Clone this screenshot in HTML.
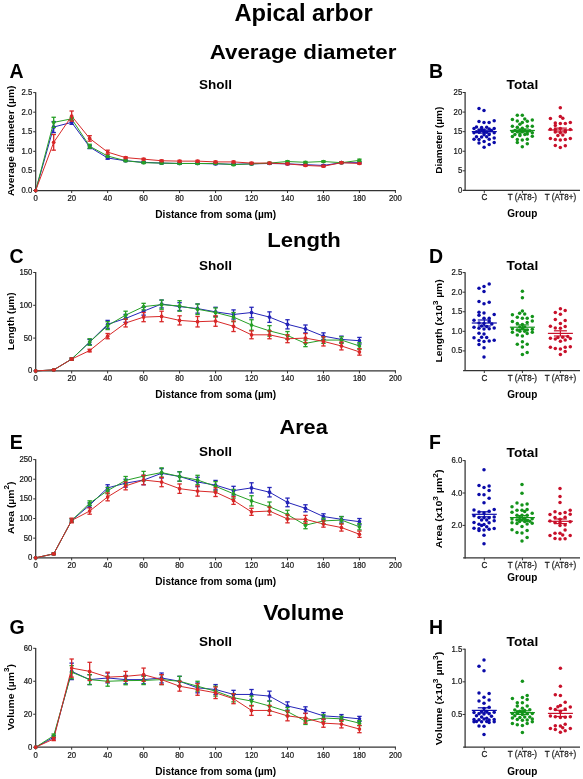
<!DOCTYPE html>
<html><head><meta charset="utf-8"><style>
html,body{margin:0;padding:0;background:#fff;width:583px;height:779px;overflow:hidden}
svg{display:block;will-change:transform}
text{font-family:"Liberation Sans", sans-serif}
</style></head><body>
<svg width="583" height="779" viewBox="0 0 583 779">
<rect width="583" height="779" fill="#fff"/>
<text x="303.50" y="20.80" font-size="23.7" font-weight="bold" text-anchor="middle" fill="#000" >Apical arbor</text>
<text x="303.05" y="58.50" font-size="21.1" font-weight="bold" text-anchor="middle" fill="#000" textLength="186.7" lengthAdjust="spacingAndGlyphs">Average diameter</text>
<text x="304.05" y="247.40" font-size="21.1" font-weight="bold" text-anchor="middle" fill="#000" textLength="73.5" lengthAdjust="spacingAndGlyphs">Length</text>
<text x="303.60" y="433.60" font-size="21.1" font-weight="bold" text-anchor="middle" fill="#000" textLength="48.2" lengthAdjust="spacingAndGlyphs">Area</text>
<text x="303.60" y="619.50" font-size="21.6" font-weight="bold" text-anchor="middle" fill="#000" textLength="80.8" lengthAdjust="spacingAndGlyphs">Volume</text>
<line x1="35.70" y1="92.20" x2="35.70" y2="191.10" stroke="#333333" stroke-width="1.25" />
<line x1="35.10" y1="190.50" x2="396.00" y2="190.50" stroke="#333333" stroke-width="1.25" />
<line x1="33.20" y1="190.50" x2="35.70" y2="190.50" stroke="#333333" stroke-width="1.0" />
<text transform="translate(32.30 193.00) scale(0.88 1)" x="0" y="0" font-size="8.8" text-anchor="end" fill="#1a1a1a" stroke="#1a1a1a" stroke-width="0.25">0.0</text>
<line x1="33.20" y1="170.92" x2="35.70" y2="170.92" stroke="#333333" stroke-width="1.0" />
<text transform="translate(32.30 173.42) scale(0.88 1)" x="0" y="0" font-size="8.8" text-anchor="end" fill="#1a1a1a" stroke="#1a1a1a" stroke-width="0.25">0.5</text>
<line x1="33.20" y1="151.34" x2="35.70" y2="151.34" stroke="#333333" stroke-width="1.0" />
<text transform="translate(32.30 153.84) scale(0.88 1)" x="0" y="0" font-size="8.8" text-anchor="end" fill="#1a1a1a" stroke="#1a1a1a" stroke-width="0.25">1.0</text>
<line x1="33.20" y1="131.76" x2="35.70" y2="131.76" stroke="#333333" stroke-width="1.0" />
<text transform="translate(32.30 134.26) scale(0.88 1)" x="0" y="0" font-size="8.8" text-anchor="end" fill="#1a1a1a" stroke="#1a1a1a" stroke-width="0.25">1.5</text>
<line x1="33.20" y1="112.18" x2="35.70" y2="112.18" stroke="#333333" stroke-width="1.0" />
<text transform="translate(32.30 114.68) scale(0.88 1)" x="0" y="0" font-size="8.8" text-anchor="end" fill="#1a1a1a" stroke="#1a1a1a" stroke-width="0.25">2.0</text>
<line x1="33.20" y1="92.60" x2="35.70" y2="92.60" stroke="#333333" stroke-width="1.0" />
<text transform="translate(32.30 95.10) scale(0.88 1)" x="0" y="0" font-size="8.8" text-anchor="end" fill="#1a1a1a" stroke="#1a1a1a" stroke-width="0.25">2.5</text>
<line x1="35.70" y1="190.50" x2="35.70" y2="193.00" stroke="#333333" stroke-width="1.0" />
<text transform="translate(35.70 200.80) scale(0.88 1)" x="0" y="0" font-size="8.8" text-anchor="middle" fill="#1a1a1a" stroke="#1a1a1a" stroke-width="0.25">0</text>
<line x1="71.67" y1="190.50" x2="71.67" y2="193.00" stroke="#333333" stroke-width="1.0" />
<text transform="translate(71.67 200.80) scale(0.88 1)" x="0" y="0" font-size="8.8" text-anchor="middle" fill="#1a1a1a" stroke="#1a1a1a" stroke-width="0.25">20</text>
<line x1="107.64" y1="190.50" x2="107.64" y2="193.00" stroke="#333333" stroke-width="1.0" />
<text transform="translate(107.64 200.80) scale(0.88 1)" x="0" y="0" font-size="8.8" text-anchor="middle" fill="#1a1a1a" stroke="#1a1a1a" stroke-width="0.25">40</text>
<line x1="143.61" y1="190.50" x2="143.61" y2="193.00" stroke="#333333" stroke-width="1.0" />
<text transform="translate(143.61 200.80) scale(0.88 1)" x="0" y="0" font-size="8.8" text-anchor="middle" fill="#1a1a1a" stroke="#1a1a1a" stroke-width="0.25">60</text>
<line x1="179.58" y1="190.50" x2="179.58" y2="193.00" stroke="#333333" stroke-width="1.0" />
<text transform="translate(179.58 200.80) scale(0.88 1)" x="0" y="0" font-size="8.8" text-anchor="middle" fill="#1a1a1a" stroke="#1a1a1a" stroke-width="0.25">80</text>
<line x1="215.55" y1="190.50" x2="215.55" y2="193.00" stroke="#333333" stroke-width="1.0" />
<text transform="translate(215.55 200.80) scale(0.88 1)" x="0" y="0" font-size="8.8" text-anchor="middle" fill="#1a1a1a" stroke="#1a1a1a" stroke-width="0.25">100</text>
<line x1="251.52" y1="190.50" x2="251.52" y2="193.00" stroke="#333333" stroke-width="1.0" />
<text transform="translate(251.52 200.80) scale(0.88 1)" x="0" y="0" font-size="8.8" text-anchor="middle" fill="#1a1a1a" stroke="#1a1a1a" stroke-width="0.25">120</text>
<line x1="287.49" y1="190.50" x2="287.49" y2="193.00" stroke="#333333" stroke-width="1.0" />
<text transform="translate(287.49 200.80) scale(0.88 1)" x="0" y="0" font-size="8.8" text-anchor="middle" fill="#1a1a1a" stroke="#1a1a1a" stroke-width="0.25">140</text>
<line x1="323.46" y1="190.50" x2="323.46" y2="193.00" stroke="#333333" stroke-width="1.0" />
<text transform="translate(323.46 200.80) scale(0.88 1)" x="0" y="0" font-size="8.8" text-anchor="middle" fill="#1a1a1a" stroke="#1a1a1a" stroke-width="0.25">160</text>
<line x1="359.43" y1="190.50" x2="359.43" y2="193.00" stroke="#333333" stroke-width="1.0" />
<text transform="translate(359.43 200.80) scale(0.88 1)" x="0" y="0" font-size="8.8" text-anchor="middle" fill="#1a1a1a" stroke="#1a1a1a" stroke-width="0.25">180</text>
<line x1="395.40" y1="190.50" x2="395.40" y2="193.00" stroke="#333333" stroke-width="1.0" />
<text transform="translate(395.40 200.80) scale(0.88 1)" x="0" y="0" font-size="8.8" text-anchor="middle" fill="#1a1a1a" stroke="#1a1a1a" stroke-width="0.25">200</text>
<text x="215.70" y="217.60" font-size="10.1" font-weight="bold" text-anchor="middle" fill="#000" >Distance from soma (µm)</text>
<text x="215.60" y="89.40" font-size="13.5" font-weight="bold" text-anchor="middle" fill="#000" >Sholl</text>
<text x="9.40" y="77.90" font-size="19.5" font-weight="bold" text-anchor="start" fill="#000" >A</text>
<text transform="translate(13.60 140.80) rotate(-90) scale(1.0719 1)" x="0" y="0" font-size="9.6" font-weight="bold" text-anchor="middle">Average diameter (µm)</text>
<polyline points="35.70,190.50 53.69,127.06 71.67,122.36 89.66,147.03 107.64,158.00 125.62,160.74 143.61,162.30 161.59,163.09 179.58,163.48 197.56,163.48 215.55,163.87 233.54,164.26 251.52,163.87 269.50,163.48 287.49,163.87 305.47,164.65 323.46,165.44 341.44,162.70 359.43,162.70" fill="none" stroke="#2424b8" stroke-width="1.0"/>
<polyline points="35.70,190.50 53.69,122.36 71.67,118.84 89.66,146.25 107.64,156.04 125.62,160.74 143.61,162.70 161.59,163.09 179.58,163.48 197.56,163.48 215.55,163.48 233.54,164.65 251.52,163.87 269.50,163.09 287.49,161.52 305.47,162.30 323.46,161.52 341.44,162.70 359.43,160.35" fill="none" stroke="#26a026" stroke-width="1.0"/>
<polyline points="35.70,190.50 53.69,142.33 71.67,116.10 89.66,138.42 107.64,152.12 125.62,157.61 143.61,159.17 161.59,160.74 179.58,161.13 197.56,161.13 215.55,161.91 233.54,161.91 251.52,163.09 269.50,163.09 287.49,163.87 305.47,165.44 323.46,166.22 341.44,162.70 359.43,163.48" fill="none" stroke="#d82828" stroke-width="1.0"/>
<circle cx="35.70" cy="190.50" r="1.85" fill="#2424b8"/>
<line x1="53.69" y1="121.58" x2="53.69" y2="132.54" stroke="#2424b8" stroke-width="1.3" />
<line x1="51.48" y1="121.58" x2="55.89" y2="121.58" stroke="#2424b8" stroke-width="1.3" />
<line x1="51.48" y1="132.54" x2="55.89" y2="132.54" stroke="#2424b8" stroke-width="1.3" />
<circle cx="53.69" cy="127.06" r="1.85" fill="#2424b8"/>
<line x1="71.67" y1="120.40" x2="71.67" y2="124.32" stroke="#2424b8" stroke-width="1.3" />
<line x1="69.47" y1="120.40" x2="73.87" y2="120.40" stroke="#2424b8" stroke-width="1.3" />
<line x1="69.47" y1="124.32" x2="73.87" y2="124.32" stroke="#2424b8" stroke-width="1.3" />
<circle cx="71.67" cy="122.36" r="1.85" fill="#2424b8"/>
<line x1="89.66" y1="145.47" x2="89.66" y2="148.60" stroke="#2424b8" stroke-width="1.3" />
<line x1="87.45" y1="145.47" x2="91.86" y2="145.47" stroke="#2424b8" stroke-width="1.3" />
<line x1="87.45" y1="148.60" x2="91.86" y2="148.60" stroke="#2424b8" stroke-width="1.3" />
<circle cx="89.66" cy="147.03" r="1.85" fill="#2424b8"/>
<line x1="107.64" y1="156.82" x2="107.64" y2="159.17" stroke="#2424b8" stroke-width="1.3" />
<line x1="105.44" y1="156.82" x2="109.84" y2="156.82" stroke="#2424b8" stroke-width="1.3" />
<line x1="105.44" y1="159.17" x2="109.84" y2="159.17" stroke="#2424b8" stroke-width="1.3" />
<circle cx="107.64" cy="158.00" r="1.85" fill="#2424b8"/>
<line x1="125.62" y1="159.96" x2="125.62" y2="161.52" stroke="#2424b8" stroke-width="1.3" />
<line x1="123.42" y1="159.96" x2="127.83" y2="159.96" stroke="#2424b8" stroke-width="1.3" />
<line x1="123.42" y1="161.52" x2="127.83" y2="161.52" stroke="#2424b8" stroke-width="1.3" />
<circle cx="125.62" cy="160.74" r="1.85" fill="#2424b8"/>
<line x1="143.61" y1="161.52" x2="143.61" y2="163.09" stroke="#2424b8" stroke-width="1.3" />
<line x1="141.41" y1="161.52" x2="145.81" y2="161.52" stroke="#2424b8" stroke-width="1.3" />
<line x1="141.41" y1="163.09" x2="145.81" y2="163.09" stroke="#2424b8" stroke-width="1.3" />
<circle cx="143.61" cy="162.30" r="1.85" fill="#2424b8"/>
<line x1="161.59" y1="162.30" x2="161.59" y2="163.87" stroke="#2424b8" stroke-width="1.3" />
<line x1="159.40" y1="162.30" x2="163.79" y2="162.30" stroke="#2424b8" stroke-width="1.3" />
<line x1="159.40" y1="163.87" x2="163.79" y2="163.87" stroke="#2424b8" stroke-width="1.3" />
<circle cx="161.59" cy="163.09" r="1.85" fill="#2424b8"/>
<line x1="179.58" y1="162.70" x2="179.58" y2="164.26" stroke="#2424b8" stroke-width="1.3" />
<line x1="177.38" y1="162.70" x2="181.78" y2="162.70" stroke="#2424b8" stroke-width="1.3" />
<line x1="177.38" y1="164.26" x2="181.78" y2="164.26" stroke="#2424b8" stroke-width="1.3" />
<circle cx="179.58" cy="163.48" r="1.85" fill="#2424b8"/>
<line x1="197.56" y1="162.70" x2="197.56" y2="164.26" stroke="#2424b8" stroke-width="1.3" />
<line x1="195.37" y1="162.70" x2="199.76" y2="162.70" stroke="#2424b8" stroke-width="1.3" />
<line x1="195.37" y1="164.26" x2="199.76" y2="164.26" stroke="#2424b8" stroke-width="1.3" />
<circle cx="197.56" cy="163.48" r="1.85" fill="#2424b8"/>
<line x1="215.55" y1="163.09" x2="215.55" y2="164.65" stroke="#2424b8" stroke-width="1.3" />
<line x1="213.35" y1="163.09" x2="217.75" y2="163.09" stroke="#2424b8" stroke-width="1.3" />
<line x1="213.35" y1="164.65" x2="217.75" y2="164.65" stroke="#2424b8" stroke-width="1.3" />
<circle cx="215.55" cy="163.87" r="1.85" fill="#2424b8"/>
<line x1="233.54" y1="163.48" x2="233.54" y2="165.05" stroke="#2424b8" stroke-width="1.3" />
<line x1="231.34" y1="163.48" x2="235.74" y2="163.48" stroke="#2424b8" stroke-width="1.3" />
<line x1="231.34" y1="165.05" x2="235.74" y2="165.05" stroke="#2424b8" stroke-width="1.3" />
<circle cx="233.54" cy="164.26" r="1.85" fill="#2424b8"/>
<line x1="251.52" y1="163.09" x2="251.52" y2="164.65" stroke="#2424b8" stroke-width="1.3" />
<line x1="249.32" y1="163.09" x2="253.72" y2="163.09" stroke="#2424b8" stroke-width="1.3" />
<line x1="249.32" y1="164.65" x2="253.72" y2="164.65" stroke="#2424b8" stroke-width="1.3" />
<circle cx="251.52" cy="163.87" r="1.85" fill="#2424b8"/>
<line x1="269.50" y1="162.70" x2="269.50" y2="164.26" stroke="#2424b8" stroke-width="1.3" />
<line x1="267.31" y1="162.70" x2="271.70" y2="162.70" stroke="#2424b8" stroke-width="1.3" />
<line x1="267.31" y1="164.26" x2="271.70" y2="164.26" stroke="#2424b8" stroke-width="1.3" />
<circle cx="269.50" cy="163.48" r="1.85" fill="#2424b8"/>
<line x1="287.49" y1="163.09" x2="287.49" y2="164.65" stroke="#2424b8" stroke-width="1.3" />
<line x1="285.29" y1="163.09" x2="289.69" y2="163.09" stroke="#2424b8" stroke-width="1.3" />
<line x1="285.29" y1="164.65" x2="289.69" y2="164.65" stroke="#2424b8" stroke-width="1.3" />
<circle cx="287.49" cy="163.87" r="1.85" fill="#2424b8"/>
<line x1="305.47" y1="163.87" x2="305.47" y2="165.44" stroke="#2424b8" stroke-width="1.3" />
<line x1="303.27" y1="163.87" x2="307.67" y2="163.87" stroke="#2424b8" stroke-width="1.3" />
<line x1="303.27" y1="165.44" x2="307.67" y2="165.44" stroke="#2424b8" stroke-width="1.3" />
<circle cx="305.47" cy="164.65" r="1.85" fill="#2424b8"/>
<line x1="323.46" y1="164.65" x2="323.46" y2="166.22" stroke="#2424b8" stroke-width="1.3" />
<line x1="321.26" y1="164.65" x2="325.66" y2="164.65" stroke="#2424b8" stroke-width="1.3" />
<line x1="321.26" y1="166.22" x2="325.66" y2="166.22" stroke="#2424b8" stroke-width="1.3" />
<circle cx="323.46" cy="165.44" r="1.85" fill="#2424b8"/>
<line x1="341.44" y1="161.91" x2="341.44" y2="163.48" stroke="#2424b8" stroke-width="1.3" />
<line x1="339.25" y1="161.91" x2="343.64" y2="161.91" stroke="#2424b8" stroke-width="1.3" />
<line x1="339.25" y1="163.48" x2="343.64" y2="163.48" stroke="#2424b8" stroke-width="1.3" />
<circle cx="341.44" cy="162.70" r="1.85" fill="#2424b8"/>
<line x1="359.43" y1="161.91" x2="359.43" y2="163.48" stroke="#2424b8" stroke-width="1.3" />
<line x1="357.23" y1="161.91" x2="361.63" y2="161.91" stroke="#2424b8" stroke-width="1.3" />
<line x1="357.23" y1="163.48" x2="361.63" y2="163.48" stroke="#2424b8" stroke-width="1.3" />
<circle cx="359.43" cy="162.70" r="1.85" fill="#2424b8"/>
<circle cx="35.70" cy="190.50" r="1.85" fill="#26a026"/>
<line x1="53.69" y1="117.27" x2="53.69" y2="127.45" stroke="#26a026" stroke-width="1.3" />
<line x1="51.48" y1="117.27" x2="55.89" y2="117.27" stroke="#26a026" stroke-width="1.3" />
<line x1="51.48" y1="127.45" x2="55.89" y2="127.45" stroke="#26a026" stroke-width="1.3" />
<circle cx="53.69" cy="122.36" r="1.85" fill="#26a026"/>
<line x1="71.67" y1="117.27" x2="71.67" y2="120.40" stroke="#26a026" stroke-width="1.3" />
<line x1="69.47" y1="117.27" x2="73.87" y2="117.27" stroke="#26a026" stroke-width="1.3" />
<line x1="69.47" y1="120.40" x2="73.87" y2="120.40" stroke="#26a026" stroke-width="1.3" />
<circle cx="71.67" cy="118.84" r="1.85" fill="#26a026"/>
<line x1="89.66" y1="144.29" x2="89.66" y2="148.21" stroke="#26a026" stroke-width="1.3" />
<line x1="87.45" y1="144.29" x2="91.86" y2="144.29" stroke="#26a026" stroke-width="1.3" />
<line x1="87.45" y1="148.21" x2="91.86" y2="148.21" stroke="#26a026" stroke-width="1.3" />
<circle cx="89.66" cy="146.25" r="1.85" fill="#26a026"/>
<line x1="107.64" y1="154.86" x2="107.64" y2="157.21" stroke="#26a026" stroke-width="1.3" />
<line x1="105.44" y1="154.86" x2="109.84" y2="154.86" stroke="#26a026" stroke-width="1.3" />
<line x1="105.44" y1="157.21" x2="109.84" y2="157.21" stroke="#26a026" stroke-width="1.3" />
<circle cx="107.64" cy="156.04" r="1.85" fill="#26a026"/>
<line x1="125.62" y1="159.96" x2="125.62" y2="161.52" stroke="#26a026" stroke-width="1.3" />
<line x1="123.42" y1="159.96" x2="127.83" y2="159.96" stroke="#26a026" stroke-width="1.3" />
<line x1="123.42" y1="161.52" x2="127.83" y2="161.52" stroke="#26a026" stroke-width="1.3" />
<circle cx="125.62" cy="160.74" r="1.85" fill="#26a026"/>
<line x1="143.61" y1="161.91" x2="143.61" y2="163.48" stroke="#26a026" stroke-width="1.3" />
<line x1="141.41" y1="161.91" x2="145.81" y2="161.91" stroke="#26a026" stroke-width="1.3" />
<line x1="141.41" y1="163.48" x2="145.81" y2="163.48" stroke="#26a026" stroke-width="1.3" />
<circle cx="143.61" cy="162.70" r="1.85" fill="#26a026"/>
<line x1="161.59" y1="162.30" x2="161.59" y2="163.87" stroke="#26a026" stroke-width="1.3" />
<line x1="159.40" y1="162.30" x2="163.79" y2="162.30" stroke="#26a026" stroke-width="1.3" />
<line x1="159.40" y1="163.87" x2="163.79" y2="163.87" stroke="#26a026" stroke-width="1.3" />
<circle cx="161.59" cy="163.09" r="1.85" fill="#26a026"/>
<line x1="179.58" y1="162.70" x2="179.58" y2="164.26" stroke="#26a026" stroke-width="1.3" />
<line x1="177.38" y1="162.70" x2="181.78" y2="162.70" stroke="#26a026" stroke-width="1.3" />
<line x1="177.38" y1="164.26" x2="181.78" y2="164.26" stroke="#26a026" stroke-width="1.3" />
<circle cx="179.58" cy="163.48" r="1.85" fill="#26a026"/>
<line x1="197.56" y1="162.70" x2="197.56" y2="164.26" stroke="#26a026" stroke-width="1.3" />
<line x1="195.37" y1="162.70" x2="199.76" y2="162.70" stroke="#26a026" stroke-width="1.3" />
<line x1="195.37" y1="164.26" x2="199.76" y2="164.26" stroke="#26a026" stroke-width="1.3" />
<circle cx="197.56" cy="163.48" r="1.85" fill="#26a026"/>
<line x1="215.55" y1="162.70" x2="215.55" y2="164.26" stroke="#26a026" stroke-width="1.3" />
<line x1="213.35" y1="162.70" x2="217.75" y2="162.70" stroke="#26a026" stroke-width="1.3" />
<line x1="213.35" y1="164.26" x2="217.75" y2="164.26" stroke="#26a026" stroke-width="1.3" />
<circle cx="215.55" cy="163.48" r="1.85" fill="#26a026"/>
<line x1="233.54" y1="163.87" x2="233.54" y2="165.44" stroke="#26a026" stroke-width="1.3" />
<line x1="231.34" y1="163.87" x2="235.74" y2="163.87" stroke="#26a026" stroke-width="1.3" />
<line x1="231.34" y1="165.44" x2="235.74" y2="165.44" stroke="#26a026" stroke-width="1.3" />
<circle cx="233.54" cy="164.65" r="1.85" fill="#26a026"/>
<line x1="251.52" y1="163.09" x2="251.52" y2="164.65" stroke="#26a026" stroke-width="1.3" />
<line x1="249.32" y1="163.09" x2="253.72" y2="163.09" stroke="#26a026" stroke-width="1.3" />
<line x1="249.32" y1="164.65" x2="253.72" y2="164.65" stroke="#26a026" stroke-width="1.3" />
<circle cx="251.52" cy="163.87" r="1.85" fill="#26a026"/>
<line x1="269.50" y1="162.30" x2="269.50" y2="163.87" stroke="#26a026" stroke-width="1.3" />
<line x1="267.31" y1="162.30" x2="271.70" y2="162.30" stroke="#26a026" stroke-width="1.3" />
<line x1="267.31" y1="163.87" x2="271.70" y2="163.87" stroke="#26a026" stroke-width="1.3" />
<circle cx="269.50" cy="163.09" r="1.85" fill="#26a026"/>
<line x1="287.49" y1="160.74" x2="287.49" y2="162.30" stroke="#26a026" stroke-width="1.3" />
<line x1="285.29" y1="160.74" x2="289.69" y2="160.74" stroke="#26a026" stroke-width="1.3" />
<line x1="285.29" y1="162.30" x2="289.69" y2="162.30" stroke="#26a026" stroke-width="1.3" />
<circle cx="287.49" cy="161.52" r="1.85" fill="#26a026"/>
<line x1="305.47" y1="161.52" x2="305.47" y2="163.09" stroke="#26a026" stroke-width="1.3" />
<line x1="303.27" y1="161.52" x2="307.67" y2="161.52" stroke="#26a026" stroke-width="1.3" />
<line x1="303.27" y1="163.09" x2="307.67" y2="163.09" stroke="#26a026" stroke-width="1.3" />
<circle cx="305.47" cy="162.30" r="1.85" fill="#26a026"/>
<line x1="323.46" y1="160.74" x2="323.46" y2="162.30" stroke="#26a026" stroke-width="1.3" />
<line x1="321.26" y1="160.74" x2="325.66" y2="160.74" stroke="#26a026" stroke-width="1.3" />
<line x1="321.26" y1="162.30" x2="325.66" y2="162.30" stroke="#26a026" stroke-width="1.3" />
<circle cx="323.46" cy="161.52" r="1.85" fill="#26a026"/>
<line x1="341.44" y1="161.91" x2="341.44" y2="163.48" stroke="#26a026" stroke-width="1.3" />
<line x1="339.25" y1="161.91" x2="343.64" y2="161.91" stroke="#26a026" stroke-width="1.3" />
<line x1="339.25" y1="163.48" x2="343.64" y2="163.48" stroke="#26a026" stroke-width="1.3" />
<circle cx="341.44" cy="162.70" r="1.85" fill="#26a026"/>
<line x1="359.43" y1="159.17" x2="359.43" y2="161.52" stroke="#26a026" stroke-width="1.3" />
<line x1="357.23" y1="159.17" x2="361.63" y2="159.17" stroke="#26a026" stroke-width="1.3" />
<line x1="357.23" y1="161.52" x2="361.63" y2="161.52" stroke="#26a026" stroke-width="1.3" />
<circle cx="359.43" cy="160.35" r="1.85" fill="#26a026"/>
<circle cx="35.70" cy="190.50" r="1.85" fill="#d82828"/>
<line x1="53.69" y1="134.50" x2="53.69" y2="150.17" stroke="#d82828" stroke-width="1.3" />
<line x1="51.48" y1="134.50" x2="55.89" y2="134.50" stroke="#d82828" stroke-width="1.3" />
<line x1="51.48" y1="150.17" x2="55.89" y2="150.17" stroke="#d82828" stroke-width="1.3" />
<circle cx="53.69" cy="142.33" r="1.85" fill="#d82828"/>
<line x1="71.67" y1="111.01" x2="71.67" y2="121.19" stroke="#d82828" stroke-width="1.3" />
<line x1="69.47" y1="111.01" x2="73.87" y2="111.01" stroke="#d82828" stroke-width="1.3" />
<line x1="69.47" y1="121.19" x2="73.87" y2="121.19" stroke="#d82828" stroke-width="1.3" />
<circle cx="71.67" cy="116.10" r="1.85" fill="#d82828"/>
<line x1="89.66" y1="135.68" x2="89.66" y2="141.16" stroke="#d82828" stroke-width="1.3" />
<line x1="87.45" y1="135.68" x2="91.86" y2="135.68" stroke="#d82828" stroke-width="1.3" />
<line x1="87.45" y1="141.16" x2="91.86" y2="141.16" stroke="#d82828" stroke-width="1.3" />
<circle cx="89.66" cy="138.42" r="1.85" fill="#d82828"/>
<line x1="107.64" y1="150.17" x2="107.64" y2="154.08" stroke="#d82828" stroke-width="1.3" />
<line x1="105.44" y1="150.17" x2="109.84" y2="150.17" stroke="#d82828" stroke-width="1.3" />
<line x1="105.44" y1="154.08" x2="109.84" y2="154.08" stroke="#d82828" stroke-width="1.3" />
<circle cx="107.64" cy="152.12" r="1.85" fill="#d82828"/>
<line x1="125.62" y1="156.82" x2="125.62" y2="158.39" stroke="#d82828" stroke-width="1.3" />
<line x1="123.42" y1="156.82" x2="127.83" y2="156.82" stroke="#d82828" stroke-width="1.3" />
<line x1="123.42" y1="158.39" x2="127.83" y2="158.39" stroke="#d82828" stroke-width="1.3" />
<circle cx="125.62" cy="157.61" r="1.85" fill="#d82828"/>
<line x1="143.61" y1="158.39" x2="143.61" y2="159.96" stroke="#d82828" stroke-width="1.3" />
<line x1="141.41" y1="158.39" x2="145.81" y2="158.39" stroke="#d82828" stroke-width="1.3" />
<line x1="141.41" y1="159.96" x2="145.81" y2="159.96" stroke="#d82828" stroke-width="1.3" />
<circle cx="143.61" cy="159.17" r="1.85" fill="#d82828"/>
<line x1="161.59" y1="159.96" x2="161.59" y2="161.52" stroke="#d82828" stroke-width="1.3" />
<line x1="159.40" y1="159.96" x2="163.79" y2="159.96" stroke="#d82828" stroke-width="1.3" />
<line x1="159.40" y1="161.52" x2="163.79" y2="161.52" stroke="#d82828" stroke-width="1.3" />
<circle cx="161.59" cy="160.74" r="1.85" fill="#d82828"/>
<line x1="179.58" y1="160.35" x2="179.58" y2="161.91" stroke="#d82828" stroke-width="1.3" />
<line x1="177.38" y1="160.35" x2="181.78" y2="160.35" stroke="#d82828" stroke-width="1.3" />
<line x1="177.38" y1="161.91" x2="181.78" y2="161.91" stroke="#d82828" stroke-width="1.3" />
<circle cx="179.58" cy="161.13" r="1.85" fill="#d82828"/>
<line x1="197.56" y1="160.35" x2="197.56" y2="161.91" stroke="#d82828" stroke-width="1.3" />
<line x1="195.37" y1="160.35" x2="199.76" y2="160.35" stroke="#d82828" stroke-width="1.3" />
<line x1="195.37" y1="161.91" x2="199.76" y2="161.91" stroke="#d82828" stroke-width="1.3" />
<circle cx="197.56" cy="161.13" r="1.85" fill="#d82828"/>
<line x1="215.55" y1="161.13" x2="215.55" y2="162.70" stroke="#d82828" stroke-width="1.3" />
<line x1="213.35" y1="161.13" x2="217.75" y2="161.13" stroke="#d82828" stroke-width="1.3" />
<line x1="213.35" y1="162.70" x2="217.75" y2="162.70" stroke="#d82828" stroke-width="1.3" />
<circle cx="215.55" cy="161.91" r="1.85" fill="#d82828"/>
<line x1="233.54" y1="161.13" x2="233.54" y2="162.70" stroke="#d82828" stroke-width="1.3" />
<line x1="231.34" y1="161.13" x2="235.74" y2="161.13" stroke="#d82828" stroke-width="1.3" />
<line x1="231.34" y1="162.70" x2="235.74" y2="162.70" stroke="#d82828" stroke-width="1.3" />
<circle cx="233.54" cy="161.91" r="1.85" fill="#d82828"/>
<line x1="251.52" y1="162.30" x2="251.52" y2="163.87" stroke="#d82828" stroke-width="1.3" />
<line x1="249.32" y1="162.30" x2="253.72" y2="162.30" stroke="#d82828" stroke-width="1.3" />
<line x1="249.32" y1="163.87" x2="253.72" y2="163.87" stroke="#d82828" stroke-width="1.3" />
<circle cx="251.52" cy="163.09" r="1.85" fill="#d82828"/>
<line x1="269.50" y1="162.30" x2="269.50" y2="163.87" stroke="#d82828" stroke-width="1.3" />
<line x1="267.31" y1="162.30" x2="271.70" y2="162.30" stroke="#d82828" stroke-width="1.3" />
<line x1="267.31" y1="163.87" x2="271.70" y2="163.87" stroke="#d82828" stroke-width="1.3" />
<circle cx="269.50" cy="163.09" r="1.85" fill="#d82828"/>
<line x1="287.49" y1="163.09" x2="287.49" y2="164.65" stroke="#d82828" stroke-width="1.3" />
<line x1="285.29" y1="163.09" x2="289.69" y2="163.09" stroke="#d82828" stroke-width="1.3" />
<line x1="285.29" y1="164.65" x2="289.69" y2="164.65" stroke="#d82828" stroke-width="1.3" />
<circle cx="287.49" cy="163.87" r="1.85" fill="#d82828"/>
<line x1="305.47" y1="164.65" x2="305.47" y2="166.22" stroke="#d82828" stroke-width="1.3" />
<line x1="303.27" y1="164.65" x2="307.67" y2="164.65" stroke="#d82828" stroke-width="1.3" />
<line x1="303.27" y1="166.22" x2="307.67" y2="166.22" stroke="#d82828" stroke-width="1.3" />
<circle cx="305.47" cy="165.44" r="1.85" fill="#d82828"/>
<line x1="323.46" y1="165.44" x2="323.46" y2="167.00" stroke="#d82828" stroke-width="1.3" />
<line x1="321.26" y1="165.44" x2="325.66" y2="165.44" stroke="#d82828" stroke-width="1.3" />
<line x1="321.26" y1="167.00" x2="325.66" y2="167.00" stroke="#d82828" stroke-width="1.3" />
<circle cx="323.46" cy="166.22" r="1.85" fill="#d82828"/>
<line x1="341.44" y1="161.91" x2="341.44" y2="163.48" stroke="#d82828" stroke-width="1.3" />
<line x1="339.25" y1="161.91" x2="343.64" y2="161.91" stroke="#d82828" stroke-width="1.3" />
<line x1="339.25" y1="163.48" x2="343.64" y2="163.48" stroke="#d82828" stroke-width="1.3" />
<circle cx="341.44" cy="162.70" r="1.85" fill="#d82828"/>
<line x1="359.43" y1="162.70" x2="359.43" y2="164.26" stroke="#d82828" stroke-width="1.3" />
<line x1="357.23" y1="162.70" x2="361.63" y2="162.70" stroke="#d82828" stroke-width="1.3" />
<line x1="357.23" y1="164.26" x2="361.63" y2="164.26" stroke="#d82828" stroke-width="1.3" />
<circle cx="359.43" cy="163.48" r="1.85" fill="#d82828"/>
<line x1="35.70" y1="272.10" x2="35.70" y2="371.50" stroke="#333333" stroke-width="1.25" />
<line x1="35.10" y1="370.90" x2="396.00" y2="370.90" stroke="#333333" stroke-width="1.25" />
<line x1="33.20" y1="370.90" x2="35.70" y2="370.90" stroke="#333333" stroke-width="1.0" />
<text transform="translate(32.30 373.40) scale(0.88 1)" x="0" y="0" font-size="8.8" text-anchor="end" fill="#1a1a1a" stroke="#1a1a1a" stroke-width="0.25">0</text>
<line x1="33.20" y1="338.10" x2="35.70" y2="338.10" stroke="#333333" stroke-width="1.0" />
<text transform="translate(32.30 340.60) scale(0.88 1)" x="0" y="0" font-size="8.8" text-anchor="end" fill="#1a1a1a" stroke="#1a1a1a" stroke-width="0.25">50</text>
<line x1="33.20" y1="305.30" x2="35.70" y2="305.30" stroke="#333333" stroke-width="1.0" />
<text transform="translate(32.30 307.80) scale(0.88 1)" x="0" y="0" font-size="8.8" text-anchor="end" fill="#1a1a1a" stroke="#1a1a1a" stroke-width="0.25">100</text>
<line x1="33.20" y1="272.50" x2="35.70" y2="272.50" stroke="#333333" stroke-width="1.0" />
<text transform="translate(32.30 275.00) scale(0.88 1)" x="0" y="0" font-size="8.8" text-anchor="end" fill="#1a1a1a" stroke="#1a1a1a" stroke-width="0.25">150</text>
<line x1="35.70" y1="370.90" x2="35.70" y2="373.40" stroke="#333333" stroke-width="1.0" />
<text transform="translate(35.70 381.20) scale(0.88 1)" x="0" y="0" font-size="8.8" text-anchor="middle" fill="#1a1a1a" stroke="#1a1a1a" stroke-width="0.25">0</text>
<line x1="71.67" y1="370.90" x2="71.67" y2="373.40" stroke="#333333" stroke-width="1.0" />
<text transform="translate(71.67 381.20) scale(0.88 1)" x="0" y="0" font-size="8.8" text-anchor="middle" fill="#1a1a1a" stroke="#1a1a1a" stroke-width="0.25">20</text>
<line x1="107.64" y1="370.90" x2="107.64" y2="373.40" stroke="#333333" stroke-width="1.0" />
<text transform="translate(107.64 381.20) scale(0.88 1)" x="0" y="0" font-size="8.8" text-anchor="middle" fill="#1a1a1a" stroke="#1a1a1a" stroke-width="0.25">40</text>
<line x1="143.61" y1="370.90" x2="143.61" y2="373.40" stroke="#333333" stroke-width="1.0" />
<text transform="translate(143.61 381.20) scale(0.88 1)" x="0" y="0" font-size="8.8" text-anchor="middle" fill="#1a1a1a" stroke="#1a1a1a" stroke-width="0.25">60</text>
<line x1="179.58" y1="370.90" x2="179.58" y2="373.40" stroke="#333333" stroke-width="1.0" />
<text transform="translate(179.58 381.20) scale(0.88 1)" x="0" y="0" font-size="8.8" text-anchor="middle" fill="#1a1a1a" stroke="#1a1a1a" stroke-width="0.25">80</text>
<line x1="215.55" y1="370.90" x2="215.55" y2="373.40" stroke="#333333" stroke-width="1.0" />
<text transform="translate(215.55 381.20) scale(0.88 1)" x="0" y="0" font-size="8.8" text-anchor="middle" fill="#1a1a1a" stroke="#1a1a1a" stroke-width="0.25">100</text>
<line x1="251.52" y1="370.90" x2="251.52" y2="373.40" stroke="#333333" stroke-width="1.0" />
<text transform="translate(251.52 381.20) scale(0.88 1)" x="0" y="0" font-size="8.8" text-anchor="middle" fill="#1a1a1a" stroke="#1a1a1a" stroke-width="0.25">120</text>
<line x1="287.49" y1="370.90" x2="287.49" y2="373.40" stroke="#333333" stroke-width="1.0" />
<text transform="translate(287.49 381.20) scale(0.88 1)" x="0" y="0" font-size="8.8" text-anchor="middle" fill="#1a1a1a" stroke="#1a1a1a" stroke-width="0.25">140</text>
<line x1="323.46" y1="370.90" x2="323.46" y2="373.40" stroke="#333333" stroke-width="1.0" />
<text transform="translate(323.46 381.20) scale(0.88 1)" x="0" y="0" font-size="8.8" text-anchor="middle" fill="#1a1a1a" stroke="#1a1a1a" stroke-width="0.25">160</text>
<line x1="359.43" y1="370.90" x2="359.43" y2="373.40" stroke="#333333" stroke-width="1.0" />
<text transform="translate(359.43 381.20) scale(0.88 1)" x="0" y="0" font-size="8.8" text-anchor="middle" fill="#1a1a1a" stroke="#1a1a1a" stroke-width="0.25">180</text>
<line x1="395.40" y1="370.90" x2="395.40" y2="373.40" stroke="#333333" stroke-width="1.0" />
<text transform="translate(395.40 381.20) scale(0.88 1)" x="0" y="0" font-size="8.8" text-anchor="middle" fill="#1a1a1a" stroke="#1a1a1a" stroke-width="0.25">200</text>
<text x="215.70" y="398.00" font-size="10.1" font-weight="bold" text-anchor="middle" fill="#000" >Distance from soma (µm)</text>
<text x="215.60" y="270.00" font-size="13.5" font-weight="bold" text-anchor="middle" fill="#000" >Sholl</text>
<text x="9.60" y="263.20" font-size="19.5" font-weight="bold" text-anchor="start" fill="#000" >C</text>
<text transform="translate(13.60 321.35) rotate(-90) scale(1.0523 1)" x="0" y="0" font-size="9.6" font-weight="bold" text-anchor="middle">Length (µm)</text>
<polyline points="35.70,370.90 53.69,369.92 71.67,359.09 89.66,342.04 107.64,324.32 125.62,318.42 143.61,311.20 161.59,303.99 179.58,306.61 197.56,308.58 215.55,311.86 233.54,314.48 251.52,312.52 269.50,317.11 287.49,324.32 305.47,328.92 323.46,336.13 341.44,339.41 359.43,340.72" fill="none" stroke="#2424b8" stroke-width="1.0"/>
<polyline points="35.70,370.90 53.69,369.92 71.67,359.09 89.66,342.04 107.64,325.64 125.62,315.14 143.61,306.61 161.59,304.64 179.58,305.96 197.56,309.24 215.55,312.52 233.54,317.11 251.52,324.98 269.50,330.88 287.49,335.48 305.47,343.35 323.46,340.07 341.44,340.07 359.43,345.97" fill="none" stroke="#26a026" stroke-width="1.0"/>
<polyline points="35.70,370.90 53.69,369.92 71.67,359.09 89.66,350.56 107.64,336.13 125.62,323.01 143.61,317.11 161.59,316.45 179.58,320.39 197.56,321.70 215.55,321.04 233.54,326.29 251.52,334.82 269.50,334.82 287.49,338.76 305.47,338.10 323.46,341.38 341.44,345.97 359.43,351.88" fill="none" stroke="#d82828" stroke-width="1.0"/>
<circle cx="35.70" cy="370.90" r="1.85" fill="#2424b8"/>
<line x1="53.69" y1="369.59" x2="53.69" y2="370.24" stroke="#2424b8" stroke-width="1.3" />
<line x1="51.48" y1="369.59" x2="55.89" y2="369.59" stroke="#2424b8" stroke-width="1.3" />
<line x1="51.48" y1="370.24" x2="55.89" y2="370.24" stroke="#2424b8" stroke-width="1.3" />
<circle cx="53.69" cy="369.92" r="1.85" fill="#2424b8"/>
<line x1="71.67" y1="358.11" x2="71.67" y2="360.08" stroke="#2424b8" stroke-width="1.3" />
<line x1="69.47" y1="358.11" x2="73.87" y2="358.11" stroke="#2424b8" stroke-width="1.3" />
<line x1="69.47" y1="360.08" x2="73.87" y2="360.08" stroke="#2424b8" stroke-width="1.3" />
<circle cx="71.67" cy="359.09" r="1.85" fill="#2424b8"/>
<line x1="89.66" y1="339.41" x2="89.66" y2="344.66" stroke="#2424b8" stroke-width="1.3" />
<line x1="87.45" y1="339.41" x2="91.86" y2="339.41" stroke="#2424b8" stroke-width="1.3" />
<line x1="87.45" y1="344.66" x2="91.86" y2="344.66" stroke="#2424b8" stroke-width="1.3" />
<circle cx="89.66" cy="342.04" r="1.85" fill="#2424b8"/>
<line x1="107.64" y1="320.39" x2="107.64" y2="328.26" stroke="#2424b8" stroke-width="1.3" />
<line x1="105.44" y1="320.39" x2="109.84" y2="320.39" stroke="#2424b8" stroke-width="1.3" />
<line x1="105.44" y1="328.26" x2="109.84" y2="328.26" stroke="#2424b8" stroke-width="1.3" />
<circle cx="107.64" cy="324.32" r="1.85" fill="#2424b8"/>
<line x1="125.62" y1="314.48" x2="125.62" y2="322.36" stroke="#2424b8" stroke-width="1.3" />
<line x1="123.42" y1="314.48" x2="127.83" y2="314.48" stroke="#2424b8" stroke-width="1.3" />
<line x1="123.42" y1="322.36" x2="127.83" y2="322.36" stroke="#2424b8" stroke-width="1.3" />
<circle cx="125.62" cy="318.42" r="1.85" fill="#2424b8"/>
<line x1="143.61" y1="307.27" x2="143.61" y2="315.14" stroke="#2424b8" stroke-width="1.3" />
<line x1="141.41" y1="307.27" x2="145.81" y2="307.27" stroke="#2424b8" stroke-width="1.3" />
<line x1="141.41" y1="315.14" x2="145.81" y2="315.14" stroke="#2424b8" stroke-width="1.3" />
<circle cx="143.61" cy="311.20" r="1.85" fill="#2424b8"/>
<line x1="161.59" y1="300.05" x2="161.59" y2="307.92" stroke="#2424b8" stroke-width="1.3" />
<line x1="159.40" y1="300.05" x2="163.79" y2="300.05" stroke="#2424b8" stroke-width="1.3" />
<line x1="159.40" y1="307.92" x2="163.79" y2="307.92" stroke="#2424b8" stroke-width="1.3" />
<circle cx="161.59" cy="303.99" r="1.85" fill="#2424b8"/>
<line x1="179.58" y1="302.68" x2="179.58" y2="310.55" stroke="#2424b8" stroke-width="1.3" />
<line x1="177.38" y1="302.68" x2="181.78" y2="302.68" stroke="#2424b8" stroke-width="1.3" />
<line x1="177.38" y1="310.55" x2="181.78" y2="310.55" stroke="#2424b8" stroke-width="1.3" />
<circle cx="179.58" cy="306.61" r="1.85" fill="#2424b8"/>
<line x1="197.56" y1="303.99" x2="197.56" y2="313.17" stroke="#2424b8" stroke-width="1.3" />
<line x1="195.37" y1="303.99" x2="199.76" y2="303.99" stroke="#2424b8" stroke-width="1.3" />
<line x1="195.37" y1="313.17" x2="199.76" y2="313.17" stroke="#2424b8" stroke-width="1.3" />
<circle cx="197.56" cy="308.58" r="1.85" fill="#2424b8"/>
<line x1="215.55" y1="307.27" x2="215.55" y2="316.45" stroke="#2424b8" stroke-width="1.3" />
<line x1="213.35" y1="307.27" x2="217.75" y2="307.27" stroke="#2424b8" stroke-width="1.3" />
<line x1="213.35" y1="316.45" x2="217.75" y2="316.45" stroke="#2424b8" stroke-width="1.3" />
<circle cx="215.55" cy="311.86" r="1.85" fill="#2424b8"/>
<line x1="233.54" y1="309.89" x2="233.54" y2="319.08" stroke="#2424b8" stroke-width="1.3" />
<line x1="231.34" y1="309.89" x2="235.74" y2="309.89" stroke="#2424b8" stroke-width="1.3" />
<line x1="231.34" y1="319.08" x2="235.74" y2="319.08" stroke="#2424b8" stroke-width="1.3" />
<circle cx="233.54" cy="314.48" r="1.85" fill="#2424b8"/>
<line x1="251.52" y1="307.27" x2="251.52" y2="317.76" stroke="#2424b8" stroke-width="1.3" />
<line x1="249.32" y1="307.27" x2="253.72" y2="307.27" stroke="#2424b8" stroke-width="1.3" />
<line x1="249.32" y1="317.76" x2="253.72" y2="317.76" stroke="#2424b8" stroke-width="1.3" />
<circle cx="251.52" cy="312.52" r="1.85" fill="#2424b8"/>
<line x1="269.50" y1="311.86" x2="269.50" y2="322.36" stroke="#2424b8" stroke-width="1.3" />
<line x1="267.31" y1="311.86" x2="271.70" y2="311.86" stroke="#2424b8" stroke-width="1.3" />
<line x1="267.31" y1="322.36" x2="271.70" y2="322.36" stroke="#2424b8" stroke-width="1.3" />
<circle cx="269.50" cy="317.11" r="1.85" fill="#2424b8"/>
<line x1="287.49" y1="319.73" x2="287.49" y2="328.92" stroke="#2424b8" stroke-width="1.3" />
<line x1="285.29" y1="319.73" x2="289.69" y2="319.73" stroke="#2424b8" stroke-width="1.3" />
<line x1="285.29" y1="328.92" x2="289.69" y2="328.92" stroke="#2424b8" stroke-width="1.3" />
<circle cx="287.49" cy="324.32" r="1.85" fill="#2424b8"/>
<line x1="305.47" y1="324.98" x2="305.47" y2="332.85" stroke="#2424b8" stroke-width="1.3" />
<line x1="303.27" y1="324.98" x2="307.67" y2="324.98" stroke="#2424b8" stroke-width="1.3" />
<line x1="303.27" y1="332.85" x2="307.67" y2="332.85" stroke="#2424b8" stroke-width="1.3" />
<circle cx="305.47" cy="328.92" r="1.85" fill="#2424b8"/>
<line x1="323.46" y1="332.85" x2="323.46" y2="339.41" stroke="#2424b8" stroke-width="1.3" />
<line x1="321.26" y1="332.85" x2="325.66" y2="332.85" stroke="#2424b8" stroke-width="1.3" />
<line x1="321.26" y1="339.41" x2="325.66" y2="339.41" stroke="#2424b8" stroke-width="1.3" />
<circle cx="323.46" cy="336.13" r="1.85" fill="#2424b8"/>
<line x1="341.44" y1="336.13" x2="341.44" y2="342.69" stroke="#2424b8" stroke-width="1.3" />
<line x1="339.25" y1="336.13" x2="343.64" y2="336.13" stroke="#2424b8" stroke-width="1.3" />
<line x1="339.25" y1="342.69" x2="343.64" y2="342.69" stroke="#2424b8" stroke-width="1.3" />
<circle cx="341.44" cy="339.41" r="1.85" fill="#2424b8"/>
<line x1="359.43" y1="337.44" x2="359.43" y2="344.00" stroke="#2424b8" stroke-width="1.3" />
<line x1="357.23" y1="337.44" x2="361.63" y2="337.44" stroke="#2424b8" stroke-width="1.3" />
<line x1="357.23" y1="344.00" x2="361.63" y2="344.00" stroke="#2424b8" stroke-width="1.3" />
<circle cx="359.43" cy="340.72" r="1.85" fill="#2424b8"/>
<circle cx="35.70" cy="370.90" r="1.85" fill="#26a026"/>
<line x1="53.69" y1="369.59" x2="53.69" y2="370.24" stroke="#26a026" stroke-width="1.3" />
<line x1="51.48" y1="369.59" x2="55.89" y2="369.59" stroke="#26a026" stroke-width="1.3" />
<line x1="51.48" y1="370.24" x2="55.89" y2="370.24" stroke="#26a026" stroke-width="1.3" />
<circle cx="53.69" cy="369.92" r="1.85" fill="#26a026"/>
<line x1="71.67" y1="358.11" x2="71.67" y2="360.08" stroke="#26a026" stroke-width="1.3" />
<line x1="69.47" y1="358.11" x2="73.87" y2="358.11" stroke="#26a026" stroke-width="1.3" />
<line x1="69.47" y1="360.08" x2="73.87" y2="360.08" stroke="#26a026" stroke-width="1.3" />
<circle cx="71.67" cy="359.09" r="1.85" fill="#26a026"/>
<line x1="89.66" y1="338.76" x2="89.66" y2="345.32" stroke="#26a026" stroke-width="1.3" />
<line x1="87.45" y1="338.76" x2="91.86" y2="338.76" stroke="#26a026" stroke-width="1.3" />
<line x1="87.45" y1="345.32" x2="91.86" y2="345.32" stroke="#26a026" stroke-width="1.3" />
<circle cx="89.66" cy="342.04" r="1.85" fill="#26a026"/>
<line x1="107.64" y1="321.70" x2="107.64" y2="329.57" stroke="#26a026" stroke-width="1.3" />
<line x1="105.44" y1="321.70" x2="109.84" y2="321.70" stroke="#26a026" stroke-width="1.3" />
<line x1="105.44" y1="329.57" x2="109.84" y2="329.57" stroke="#26a026" stroke-width="1.3" />
<circle cx="107.64" cy="325.64" r="1.85" fill="#26a026"/>
<line x1="125.62" y1="311.20" x2="125.62" y2="319.08" stroke="#26a026" stroke-width="1.3" />
<line x1="123.42" y1="311.20" x2="127.83" y2="311.20" stroke="#26a026" stroke-width="1.3" />
<line x1="123.42" y1="319.08" x2="127.83" y2="319.08" stroke="#26a026" stroke-width="1.3" />
<circle cx="125.62" cy="315.14" r="1.85" fill="#26a026"/>
<line x1="143.61" y1="303.33" x2="143.61" y2="309.89" stroke="#26a026" stroke-width="1.3" />
<line x1="141.41" y1="303.33" x2="145.81" y2="303.33" stroke="#26a026" stroke-width="1.3" />
<line x1="141.41" y1="309.89" x2="145.81" y2="309.89" stroke="#26a026" stroke-width="1.3" />
<circle cx="143.61" cy="306.61" r="1.85" fill="#26a026"/>
<line x1="161.59" y1="300.05" x2="161.59" y2="309.24" stroke="#26a026" stroke-width="1.3" />
<line x1="159.40" y1="300.05" x2="163.79" y2="300.05" stroke="#26a026" stroke-width="1.3" />
<line x1="159.40" y1="309.24" x2="163.79" y2="309.24" stroke="#26a026" stroke-width="1.3" />
<circle cx="161.59" cy="304.64" r="1.85" fill="#26a026"/>
<line x1="179.58" y1="300.71" x2="179.58" y2="311.20" stroke="#26a026" stroke-width="1.3" />
<line x1="177.38" y1="300.71" x2="181.78" y2="300.71" stroke="#26a026" stroke-width="1.3" />
<line x1="177.38" y1="311.20" x2="181.78" y2="311.20" stroke="#26a026" stroke-width="1.3" />
<circle cx="179.58" cy="305.96" r="1.85" fill="#26a026"/>
<line x1="197.56" y1="303.99" x2="197.56" y2="314.48" stroke="#26a026" stroke-width="1.3" />
<line x1="195.37" y1="303.99" x2="199.76" y2="303.99" stroke="#26a026" stroke-width="1.3" />
<line x1="195.37" y1="314.48" x2="199.76" y2="314.48" stroke="#26a026" stroke-width="1.3" />
<circle cx="197.56" cy="309.24" r="1.85" fill="#26a026"/>
<line x1="215.55" y1="307.92" x2="215.55" y2="317.11" stroke="#26a026" stroke-width="1.3" />
<line x1="213.35" y1="307.92" x2="217.75" y2="307.92" stroke="#26a026" stroke-width="1.3" />
<line x1="213.35" y1="317.11" x2="217.75" y2="317.11" stroke="#26a026" stroke-width="1.3" />
<circle cx="215.55" cy="312.52" r="1.85" fill="#26a026"/>
<line x1="233.54" y1="312.52" x2="233.54" y2="321.70" stroke="#26a026" stroke-width="1.3" />
<line x1="231.34" y1="312.52" x2="235.74" y2="312.52" stroke="#26a026" stroke-width="1.3" />
<line x1="231.34" y1="321.70" x2="235.74" y2="321.70" stroke="#26a026" stroke-width="1.3" />
<circle cx="233.54" cy="317.11" r="1.85" fill="#26a026"/>
<line x1="251.52" y1="319.73" x2="251.52" y2="330.23" stroke="#26a026" stroke-width="1.3" />
<line x1="249.32" y1="319.73" x2="253.72" y2="319.73" stroke="#26a026" stroke-width="1.3" />
<line x1="249.32" y1="330.23" x2="253.72" y2="330.23" stroke="#26a026" stroke-width="1.3" />
<circle cx="251.52" cy="324.98" r="1.85" fill="#26a026"/>
<line x1="269.50" y1="325.64" x2="269.50" y2="336.13" stroke="#26a026" stroke-width="1.3" />
<line x1="267.31" y1="325.64" x2="271.70" y2="325.64" stroke="#26a026" stroke-width="1.3" />
<line x1="267.31" y1="336.13" x2="271.70" y2="336.13" stroke="#26a026" stroke-width="1.3" />
<circle cx="269.50" cy="330.88" r="1.85" fill="#26a026"/>
<line x1="287.49" y1="331.54" x2="287.49" y2="339.41" stroke="#26a026" stroke-width="1.3" />
<line x1="285.29" y1="331.54" x2="289.69" y2="331.54" stroke="#26a026" stroke-width="1.3" />
<line x1="285.29" y1="339.41" x2="289.69" y2="339.41" stroke="#26a026" stroke-width="1.3" />
<circle cx="287.49" cy="335.48" r="1.85" fill="#26a026"/>
<line x1="305.47" y1="340.07" x2="305.47" y2="346.63" stroke="#26a026" stroke-width="1.3" />
<line x1="303.27" y1="340.07" x2="307.67" y2="340.07" stroke="#26a026" stroke-width="1.3" />
<line x1="303.27" y1="346.63" x2="307.67" y2="346.63" stroke="#26a026" stroke-width="1.3" />
<circle cx="305.47" cy="343.35" r="1.85" fill="#26a026"/>
<line x1="323.46" y1="336.79" x2="323.46" y2="343.35" stroke="#26a026" stroke-width="1.3" />
<line x1="321.26" y1="336.79" x2="325.66" y2="336.79" stroke="#26a026" stroke-width="1.3" />
<line x1="321.26" y1="343.35" x2="325.66" y2="343.35" stroke="#26a026" stroke-width="1.3" />
<circle cx="323.46" cy="340.07" r="1.85" fill="#26a026"/>
<line x1="341.44" y1="336.79" x2="341.44" y2="343.35" stroke="#26a026" stroke-width="1.3" />
<line x1="339.25" y1="336.79" x2="343.64" y2="336.79" stroke="#26a026" stroke-width="1.3" />
<line x1="339.25" y1="343.35" x2="343.64" y2="343.35" stroke="#26a026" stroke-width="1.3" />
<circle cx="341.44" cy="340.07" r="1.85" fill="#26a026"/>
<line x1="359.43" y1="342.69" x2="359.43" y2="349.25" stroke="#26a026" stroke-width="1.3" />
<line x1="357.23" y1="342.69" x2="361.63" y2="342.69" stroke="#26a026" stroke-width="1.3" />
<line x1="357.23" y1="349.25" x2="361.63" y2="349.25" stroke="#26a026" stroke-width="1.3" />
<circle cx="359.43" cy="345.97" r="1.85" fill="#26a026"/>
<circle cx="35.70" cy="370.90" r="1.85" fill="#d82828"/>
<line x1="53.69" y1="369.59" x2="53.69" y2="370.24" stroke="#d82828" stroke-width="1.3" />
<line x1="51.48" y1="369.59" x2="55.89" y2="369.59" stroke="#d82828" stroke-width="1.3" />
<line x1="51.48" y1="370.24" x2="55.89" y2="370.24" stroke="#d82828" stroke-width="1.3" />
<circle cx="53.69" cy="369.92" r="1.85" fill="#d82828"/>
<line x1="71.67" y1="358.11" x2="71.67" y2="360.08" stroke="#d82828" stroke-width="1.3" />
<line x1="69.47" y1="358.11" x2="73.87" y2="358.11" stroke="#d82828" stroke-width="1.3" />
<line x1="69.47" y1="360.08" x2="73.87" y2="360.08" stroke="#d82828" stroke-width="1.3" />
<circle cx="71.67" cy="359.09" r="1.85" fill="#d82828"/>
<line x1="89.66" y1="349.25" x2="89.66" y2="351.88" stroke="#d82828" stroke-width="1.3" />
<line x1="87.45" y1="349.25" x2="91.86" y2="349.25" stroke="#d82828" stroke-width="1.3" />
<line x1="87.45" y1="351.88" x2="91.86" y2="351.88" stroke="#d82828" stroke-width="1.3" />
<circle cx="89.66" cy="350.56" r="1.85" fill="#d82828"/>
<line x1="107.64" y1="333.51" x2="107.64" y2="338.76" stroke="#d82828" stroke-width="1.3" />
<line x1="105.44" y1="333.51" x2="109.84" y2="333.51" stroke="#d82828" stroke-width="1.3" />
<line x1="105.44" y1="338.76" x2="109.84" y2="338.76" stroke="#d82828" stroke-width="1.3" />
<circle cx="107.64" cy="336.13" r="1.85" fill="#d82828"/>
<line x1="125.62" y1="319.08" x2="125.62" y2="326.95" stroke="#d82828" stroke-width="1.3" />
<line x1="123.42" y1="319.08" x2="127.83" y2="319.08" stroke="#d82828" stroke-width="1.3" />
<line x1="123.42" y1="326.95" x2="127.83" y2="326.95" stroke="#d82828" stroke-width="1.3" />
<circle cx="125.62" cy="323.01" r="1.85" fill="#d82828"/>
<line x1="143.61" y1="312.52" x2="143.61" y2="321.70" stroke="#d82828" stroke-width="1.3" />
<line x1="141.41" y1="312.52" x2="145.81" y2="312.52" stroke="#d82828" stroke-width="1.3" />
<line x1="141.41" y1="321.70" x2="145.81" y2="321.70" stroke="#d82828" stroke-width="1.3" />
<circle cx="143.61" cy="317.11" r="1.85" fill="#d82828"/>
<line x1="161.59" y1="311.20" x2="161.59" y2="321.70" stroke="#d82828" stroke-width="1.3" />
<line x1="159.40" y1="311.20" x2="163.79" y2="311.20" stroke="#d82828" stroke-width="1.3" />
<line x1="159.40" y1="321.70" x2="163.79" y2="321.70" stroke="#d82828" stroke-width="1.3" />
<circle cx="161.59" cy="316.45" r="1.85" fill="#d82828"/>
<line x1="179.58" y1="315.80" x2="179.58" y2="324.98" stroke="#d82828" stroke-width="1.3" />
<line x1="177.38" y1="315.80" x2="181.78" y2="315.80" stroke="#d82828" stroke-width="1.3" />
<line x1="177.38" y1="324.98" x2="181.78" y2="324.98" stroke="#d82828" stroke-width="1.3" />
<circle cx="179.58" cy="320.39" r="1.85" fill="#d82828"/>
<line x1="197.56" y1="316.45" x2="197.56" y2="326.95" stroke="#d82828" stroke-width="1.3" />
<line x1="195.37" y1="316.45" x2="199.76" y2="316.45" stroke="#d82828" stroke-width="1.3" />
<line x1="195.37" y1="326.95" x2="199.76" y2="326.95" stroke="#d82828" stroke-width="1.3" />
<circle cx="197.56" cy="321.70" r="1.85" fill="#d82828"/>
<line x1="215.55" y1="315.80" x2="215.55" y2="326.29" stroke="#d82828" stroke-width="1.3" />
<line x1="213.35" y1="315.80" x2="217.75" y2="315.80" stroke="#d82828" stroke-width="1.3" />
<line x1="213.35" y1="326.29" x2="217.75" y2="326.29" stroke="#d82828" stroke-width="1.3" />
<circle cx="215.55" cy="321.04" r="1.85" fill="#d82828"/>
<line x1="233.54" y1="321.04" x2="233.54" y2="331.54" stroke="#d82828" stroke-width="1.3" />
<line x1="231.34" y1="321.04" x2="235.74" y2="321.04" stroke="#d82828" stroke-width="1.3" />
<line x1="231.34" y1="331.54" x2="235.74" y2="331.54" stroke="#d82828" stroke-width="1.3" />
<circle cx="233.54" cy="326.29" r="1.85" fill="#d82828"/>
<line x1="251.52" y1="330.88" x2="251.52" y2="338.76" stroke="#d82828" stroke-width="1.3" />
<line x1="249.32" y1="330.88" x2="253.72" y2="330.88" stroke="#d82828" stroke-width="1.3" />
<line x1="249.32" y1="338.76" x2="253.72" y2="338.76" stroke="#d82828" stroke-width="1.3" />
<circle cx="251.52" cy="334.82" r="1.85" fill="#d82828"/>
<line x1="269.50" y1="330.88" x2="269.50" y2="338.76" stroke="#d82828" stroke-width="1.3" />
<line x1="267.31" y1="330.88" x2="271.70" y2="330.88" stroke="#d82828" stroke-width="1.3" />
<line x1="267.31" y1="338.76" x2="271.70" y2="338.76" stroke="#d82828" stroke-width="1.3" />
<circle cx="269.50" cy="334.82" r="1.85" fill="#d82828"/>
<line x1="287.49" y1="334.82" x2="287.49" y2="342.69" stroke="#d82828" stroke-width="1.3" />
<line x1="285.29" y1="334.82" x2="289.69" y2="334.82" stroke="#d82828" stroke-width="1.3" />
<line x1="285.29" y1="342.69" x2="289.69" y2="342.69" stroke="#d82828" stroke-width="1.3" />
<circle cx="287.49" cy="338.76" r="1.85" fill="#d82828"/>
<line x1="305.47" y1="333.51" x2="305.47" y2="342.69" stroke="#d82828" stroke-width="1.3" />
<line x1="303.27" y1="333.51" x2="307.67" y2="333.51" stroke="#d82828" stroke-width="1.3" />
<line x1="303.27" y1="342.69" x2="307.67" y2="342.69" stroke="#d82828" stroke-width="1.3" />
<circle cx="305.47" cy="338.10" r="1.85" fill="#d82828"/>
<line x1="323.46" y1="336.79" x2="323.46" y2="345.97" stroke="#d82828" stroke-width="1.3" />
<line x1="321.26" y1="336.79" x2="325.66" y2="336.79" stroke="#d82828" stroke-width="1.3" />
<line x1="321.26" y1="345.97" x2="325.66" y2="345.97" stroke="#d82828" stroke-width="1.3" />
<circle cx="323.46" cy="341.38" r="1.85" fill="#d82828"/>
<line x1="341.44" y1="342.04" x2="341.44" y2="349.91" stroke="#d82828" stroke-width="1.3" />
<line x1="339.25" y1="342.04" x2="343.64" y2="342.04" stroke="#d82828" stroke-width="1.3" />
<line x1="339.25" y1="349.91" x2="343.64" y2="349.91" stroke="#d82828" stroke-width="1.3" />
<circle cx="341.44" cy="345.97" r="1.85" fill="#d82828"/>
<line x1="359.43" y1="348.60" x2="359.43" y2="355.16" stroke="#d82828" stroke-width="1.3" />
<line x1="357.23" y1="348.60" x2="361.63" y2="348.60" stroke="#d82828" stroke-width="1.3" />
<line x1="357.23" y1="355.16" x2="361.63" y2="355.16" stroke="#d82828" stroke-width="1.3" />
<circle cx="359.43" cy="351.88" r="1.85" fill="#d82828"/>
<line x1="35.70" y1="459.20" x2="35.70" y2="558.40" stroke="#333333" stroke-width="1.25" />
<line x1="35.10" y1="557.80" x2="396.00" y2="557.80" stroke="#333333" stroke-width="1.25" />
<line x1="33.20" y1="557.80" x2="35.70" y2="557.80" stroke="#333333" stroke-width="1.0" />
<text transform="translate(32.30 560.30) scale(0.88 1)" x="0" y="0" font-size="8.8" text-anchor="end" fill="#1a1a1a" stroke="#1a1a1a" stroke-width="0.25">0</text>
<line x1="33.20" y1="538.16" x2="35.70" y2="538.16" stroke="#333333" stroke-width="1.0" />
<text transform="translate(32.30 540.66) scale(0.88 1)" x="0" y="0" font-size="8.8" text-anchor="end" fill="#1a1a1a" stroke="#1a1a1a" stroke-width="0.25">50</text>
<line x1="33.20" y1="518.52" x2="35.70" y2="518.52" stroke="#333333" stroke-width="1.0" />
<text transform="translate(32.30 521.02) scale(0.88 1)" x="0" y="0" font-size="8.8" text-anchor="end" fill="#1a1a1a" stroke="#1a1a1a" stroke-width="0.25">100</text>
<line x1="33.20" y1="498.88" x2="35.70" y2="498.88" stroke="#333333" stroke-width="1.0" />
<text transform="translate(32.30 501.38) scale(0.88 1)" x="0" y="0" font-size="8.8" text-anchor="end" fill="#1a1a1a" stroke="#1a1a1a" stroke-width="0.25">150</text>
<line x1="33.20" y1="479.24" x2="35.70" y2="479.24" stroke="#333333" stroke-width="1.0" />
<text transform="translate(32.30 481.74) scale(0.88 1)" x="0" y="0" font-size="8.8" text-anchor="end" fill="#1a1a1a" stroke="#1a1a1a" stroke-width="0.25">200</text>
<line x1="33.20" y1="459.60" x2="35.70" y2="459.60" stroke="#333333" stroke-width="1.0" />
<text transform="translate(32.30 462.10) scale(0.88 1)" x="0" y="0" font-size="8.8" text-anchor="end" fill="#1a1a1a" stroke="#1a1a1a" stroke-width="0.25">250</text>
<line x1="35.70" y1="557.80" x2="35.70" y2="560.30" stroke="#333333" stroke-width="1.0" />
<text transform="translate(35.70 568.10) scale(0.88 1)" x="0" y="0" font-size="8.8" text-anchor="middle" fill="#1a1a1a" stroke="#1a1a1a" stroke-width="0.25">0</text>
<line x1="71.67" y1="557.80" x2="71.67" y2="560.30" stroke="#333333" stroke-width="1.0" />
<text transform="translate(71.67 568.10) scale(0.88 1)" x="0" y="0" font-size="8.8" text-anchor="middle" fill="#1a1a1a" stroke="#1a1a1a" stroke-width="0.25">20</text>
<line x1="107.64" y1="557.80" x2="107.64" y2="560.30" stroke="#333333" stroke-width="1.0" />
<text transform="translate(107.64 568.10) scale(0.88 1)" x="0" y="0" font-size="8.8" text-anchor="middle" fill="#1a1a1a" stroke="#1a1a1a" stroke-width="0.25">40</text>
<line x1="143.61" y1="557.80" x2="143.61" y2="560.30" stroke="#333333" stroke-width="1.0" />
<text transform="translate(143.61 568.10) scale(0.88 1)" x="0" y="0" font-size="8.8" text-anchor="middle" fill="#1a1a1a" stroke="#1a1a1a" stroke-width="0.25">60</text>
<line x1="179.58" y1="557.80" x2="179.58" y2="560.30" stroke="#333333" stroke-width="1.0" />
<text transform="translate(179.58 568.10) scale(0.88 1)" x="0" y="0" font-size="8.8" text-anchor="middle" fill="#1a1a1a" stroke="#1a1a1a" stroke-width="0.25">80</text>
<line x1="215.55" y1="557.80" x2="215.55" y2="560.30" stroke="#333333" stroke-width="1.0" />
<text transform="translate(215.55 568.10) scale(0.88 1)" x="0" y="0" font-size="8.8" text-anchor="middle" fill="#1a1a1a" stroke="#1a1a1a" stroke-width="0.25">100</text>
<line x1="251.52" y1="557.80" x2="251.52" y2="560.30" stroke="#333333" stroke-width="1.0" />
<text transform="translate(251.52 568.10) scale(0.88 1)" x="0" y="0" font-size="8.8" text-anchor="middle" fill="#1a1a1a" stroke="#1a1a1a" stroke-width="0.25">120</text>
<line x1="287.49" y1="557.80" x2="287.49" y2="560.30" stroke="#333333" stroke-width="1.0" />
<text transform="translate(287.49 568.10) scale(0.88 1)" x="0" y="0" font-size="8.8" text-anchor="middle" fill="#1a1a1a" stroke="#1a1a1a" stroke-width="0.25">140</text>
<line x1="323.46" y1="557.80" x2="323.46" y2="560.30" stroke="#333333" stroke-width="1.0" />
<text transform="translate(323.46 568.10) scale(0.88 1)" x="0" y="0" font-size="8.8" text-anchor="middle" fill="#1a1a1a" stroke="#1a1a1a" stroke-width="0.25">160</text>
<line x1="359.43" y1="557.80" x2="359.43" y2="560.30" stroke="#333333" stroke-width="1.0" />
<text transform="translate(359.43 568.10) scale(0.88 1)" x="0" y="0" font-size="8.8" text-anchor="middle" fill="#1a1a1a" stroke="#1a1a1a" stroke-width="0.25">180</text>
<line x1="395.40" y1="557.80" x2="395.40" y2="560.30" stroke="#333333" stroke-width="1.0" />
<text transform="translate(395.40 568.10) scale(0.88 1)" x="0" y="0" font-size="8.8" text-anchor="middle" fill="#1a1a1a" stroke="#1a1a1a" stroke-width="0.25">200</text>
<text x="215.70" y="584.90" font-size="10.1" font-weight="bold" text-anchor="middle" fill="#000" >Distance from soma (µm)</text>
<text x="215.60" y="456.40" font-size="13.5" font-weight="bold" text-anchor="middle" fill="#000" >Sholl</text>
<text x="9.80" y="448.50" font-size="19.5" font-weight="bold" text-anchor="start" fill="#000" >E</text>
<text transform="translate(13.60 507.75) rotate(-90) scale(1.0837 1)" x="0" y="0" font-size="9.6" font-weight="bold" text-anchor="middle">Area (µm<tspan font-size="7.5" dy="-4.5">2</tspan><tspan dy="4.5">)</tspan></text>
<polyline points="35.70,557.80 53.69,553.87 71.67,520.48 89.66,505.16 107.64,487.88 125.62,483.17 143.61,480.03 161.59,473.35 179.58,476.49 197.56,481.99 215.55,485.13 233.54,490.63 251.52,487.88 269.50,492.20 287.49,502.42 305.47,508.31 323.46,516.56 341.44,519.31 359.43,521.66" fill="none" stroke="#2424b8" stroke-width="1.0"/>
<polyline points="35.70,557.80 53.69,553.87 71.67,520.48 89.66,503.20 107.64,490.63 125.62,480.42 143.61,476.10 161.59,472.56 179.58,476.49 197.56,480.03 215.55,486.31 233.54,493.77 251.52,500.84 269.50,506.74 287.49,514.59 305.47,525.20 323.46,520.88 341.44,520.09 359.43,526.77" fill="none" stroke="#26a026" stroke-width="1.0"/>
<polyline points="35.70,557.80 53.69,553.87 71.67,520.48 89.66,511.06 107.64,496.92 125.62,485.92 143.61,480.03 161.59,481.99 179.58,488.67 197.56,491.02 215.55,492.20 233.54,500.45 251.52,511.84 269.50,511.06 287.49,518.91 305.47,519.31 323.46,524.02 341.44,527.55 359.43,534.23" fill="none" stroke="#d82828" stroke-width="1.0"/>
<circle cx="35.70" cy="557.80" r="1.85" fill="#2424b8"/>
<line x1="53.69" y1="553.09" x2="53.69" y2="554.66" stroke="#2424b8" stroke-width="1.3" />
<line x1="51.48" y1="553.09" x2="55.89" y2="553.09" stroke="#2424b8" stroke-width="1.3" />
<line x1="51.48" y1="554.66" x2="55.89" y2="554.66" stroke="#2424b8" stroke-width="1.3" />
<circle cx="53.69" cy="553.87" r="1.85" fill="#2424b8"/>
<line x1="71.67" y1="518.91" x2="71.67" y2="522.06" stroke="#2424b8" stroke-width="1.3" />
<line x1="69.47" y1="518.91" x2="73.87" y2="518.91" stroke="#2424b8" stroke-width="1.3" />
<line x1="69.47" y1="522.06" x2="73.87" y2="522.06" stroke="#2424b8" stroke-width="1.3" />
<circle cx="71.67" cy="520.48" r="1.85" fill="#2424b8"/>
<line x1="89.66" y1="502.81" x2="89.66" y2="507.52" stroke="#2424b8" stroke-width="1.3" />
<line x1="87.45" y1="502.81" x2="91.86" y2="502.81" stroke="#2424b8" stroke-width="1.3" />
<line x1="87.45" y1="507.52" x2="91.86" y2="507.52" stroke="#2424b8" stroke-width="1.3" />
<circle cx="89.66" cy="505.16" r="1.85" fill="#2424b8"/>
<line x1="107.64" y1="484.74" x2="107.64" y2="491.02" stroke="#2424b8" stroke-width="1.3" />
<line x1="105.44" y1="484.74" x2="109.84" y2="484.74" stroke="#2424b8" stroke-width="1.3" />
<line x1="105.44" y1="491.02" x2="109.84" y2="491.02" stroke="#2424b8" stroke-width="1.3" />
<circle cx="107.64" cy="487.88" r="1.85" fill="#2424b8"/>
<line x1="125.62" y1="479.24" x2="125.62" y2="487.10" stroke="#2424b8" stroke-width="1.3" />
<line x1="123.42" y1="479.24" x2="127.83" y2="479.24" stroke="#2424b8" stroke-width="1.3" />
<line x1="123.42" y1="487.10" x2="127.83" y2="487.10" stroke="#2424b8" stroke-width="1.3" />
<circle cx="125.62" cy="483.17" r="1.85" fill="#2424b8"/>
<line x1="143.61" y1="475.31" x2="143.61" y2="484.74" stroke="#2424b8" stroke-width="1.3" />
<line x1="141.41" y1="475.31" x2="145.81" y2="475.31" stroke="#2424b8" stroke-width="1.3" />
<line x1="141.41" y1="484.74" x2="145.81" y2="484.74" stroke="#2424b8" stroke-width="1.3" />
<circle cx="143.61" cy="480.03" r="1.85" fill="#2424b8"/>
<line x1="161.59" y1="468.63" x2="161.59" y2="478.06" stroke="#2424b8" stroke-width="1.3" />
<line x1="159.40" y1="468.63" x2="163.79" y2="468.63" stroke="#2424b8" stroke-width="1.3" />
<line x1="159.40" y1="478.06" x2="163.79" y2="478.06" stroke="#2424b8" stroke-width="1.3" />
<circle cx="161.59" cy="473.35" r="1.85" fill="#2424b8"/>
<line x1="179.58" y1="471.78" x2="179.58" y2="481.20" stroke="#2424b8" stroke-width="1.3" />
<line x1="177.38" y1="471.78" x2="181.78" y2="471.78" stroke="#2424b8" stroke-width="1.3" />
<line x1="177.38" y1="481.20" x2="181.78" y2="481.20" stroke="#2424b8" stroke-width="1.3" />
<circle cx="179.58" cy="476.49" r="1.85" fill="#2424b8"/>
<line x1="197.56" y1="477.28" x2="197.56" y2="486.70" stroke="#2424b8" stroke-width="1.3" />
<line x1="195.37" y1="477.28" x2="199.76" y2="477.28" stroke="#2424b8" stroke-width="1.3" />
<line x1="195.37" y1="486.70" x2="199.76" y2="486.70" stroke="#2424b8" stroke-width="1.3" />
<circle cx="197.56" cy="481.99" r="1.85" fill="#2424b8"/>
<line x1="215.55" y1="480.42" x2="215.55" y2="489.85" stroke="#2424b8" stroke-width="1.3" />
<line x1="213.35" y1="480.42" x2="217.75" y2="480.42" stroke="#2424b8" stroke-width="1.3" />
<line x1="213.35" y1="489.85" x2="217.75" y2="489.85" stroke="#2424b8" stroke-width="1.3" />
<circle cx="215.55" cy="485.13" r="1.85" fill="#2424b8"/>
<line x1="233.54" y1="486.31" x2="233.54" y2="494.95" stroke="#2424b8" stroke-width="1.3" />
<line x1="231.34" y1="486.31" x2="235.74" y2="486.31" stroke="#2424b8" stroke-width="1.3" />
<line x1="231.34" y1="494.95" x2="235.74" y2="494.95" stroke="#2424b8" stroke-width="1.3" />
<circle cx="233.54" cy="490.63" r="1.85" fill="#2424b8"/>
<line x1="251.52" y1="482.78" x2="251.52" y2="492.99" stroke="#2424b8" stroke-width="1.3" />
<line x1="249.32" y1="482.78" x2="253.72" y2="482.78" stroke="#2424b8" stroke-width="1.3" />
<line x1="249.32" y1="492.99" x2="253.72" y2="492.99" stroke="#2424b8" stroke-width="1.3" />
<circle cx="251.52" cy="487.88" r="1.85" fill="#2424b8"/>
<line x1="269.50" y1="487.49" x2="269.50" y2="496.92" stroke="#2424b8" stroke-width="1.3" />
<line x1="267.31" y1="487.49" x2="271.70" y2="487.49" stroke="#2424b8" stroke-width="1.3" />
<line x1="267.31" y1="496.92" x2="271.70" y2="496.92" stroke="#2424b8" stroke-width="1.3" />
<circle cx="269.50" cy="492.20" r="1.85" fill="#2424b8"/>
<line x1="287.49" y1="498.09" x2="287.49" y2="506.74" stroke="#2424b8" stroke-width="1.3" />
<line x1="285.29" y1="498.09" x2="289.69" y2="498.09" stroke="#2424b8" stroke-width="1.3" />
<line x1="285.29" y1="506.74" x2="289.69" y2="506.74" stroke="#2424b8" stroke-width="1.3" />
<circle cx="287.49" cy="502.42" r="1.85" fill="#2424b8"/>
<line x1="305.47" y1="504.77" x2="305.47" y2="511.84" stroke="#2424b8" stroke-width="1.3" />
<line x1="303.27" y1="504.77" x2="307.67" y2="504.77" stroke="#2424b8" stroke-width="1.3" />
<line x1="303.27" y1="511.84" x2="307.67" y2="511.84" stroke="#2424b8" stroke-width="1.3" />
<circle cx="305.47" cy="508.31" r="1.85" fill="#2424b8"/>
<line x1="323.46" y1="513.81" x2="323.46" y2="519.31" stroke="#2424b8" stroke-width="1.3" />
<line x1="321.26" y1="513.81" x2="325.66" y2="513.81" stroke="#2424b8" stroke-width="1.3" />
<line x1="321.26" y1="519.31" x2="325.66" y2="519.31" stroke="#2424b8" stroke-width="1.3" />
<circle cx="323.46" cy="516.56" r="1.85" fill="#2424b8"/>
<line x1="341.44" y1="516.56" x2="341.44" y2="522.06" stroke="#2424b8" stroke-width="1.3" />
<line x1="339.25" y1="516.56" x2="343.64" y2="516.56" stroke="#2424b8" stroke-width="1.3" />
<line x1="339.25" y1="522.06" x2="343.64" y2="522.06" stroke="#2424b8" stroke-width="1.3" />
<circle cx="341.44" cy="519.31" r="1.85" fill="#2424b8"/>
<line x1="359.43" y1="518.52" x2="359.43" y2="524.80" stroke="#2424b8" stroke-width="1.3" />
<line x1="357.23" y1="518.52" x2="361.63" y2="518.52" stroke="#2424b8" stroke-width="1.3" />
<line x1="357.23" y1="524.80" x2="361.63" y2="524.80" stroke="#2424b8" stroke-width="1.3" />
<circle cx="359.43" cy="521.66" r="1.85" fill="#2424b8"/>
<circle cx="35.70" cy="557.80" r="1.85" fill="#26a026"/>
<line x1="53.69" y1="553.09" x2="53.69" y2="554.66" stroke="#26a026" stroke-width="1.3" />
<line x1="51.48" y1="553.09" x2="55.89" y2="553.09" stroke="#26a026" stroke-width="1.3" />
<line x1="51.48" y1="554.66" x2="55.89" y2="554.66" stroke="#26a026" stroke-width="1.3" />
<circle cx="53.69" cy="553.87" r="1.85" fill="#26a026"/>
<line x1="71.67" y1="518.91" x2="71.67" y2="522.06" stroke="#26a026" stroke-width="1.3" />
<line x1="69.47" y1="518.91" x2="73.87" y2="518.91" stroke="#26a026" stroke-width="1.3" />
<line x1="69.47" y1="522.06" x2="73.87" y2="522.06" stroke="#26a026" stroke-width="1.3" />
<circle cx="71.67" cy="520.48" r="1.85" fill="#26a026"/>
<line x1="89.66" y1="500.84" x2="89.66" y2="505.56" stroke="#26a026" stroke-width="1.3" />
<line x1="87.45" y1="500.84" x2="91.86" y2="500.84" stroke="#26a026" stroke-width="1.3" />
<line x1="87.45" y1="505.56" x2="91.86" y2="505.56" stroke="#26a026" stroke-width="1.3" />
<circle cx="89.66" cy="503.20" r="1.85" fill="#26a026"/>
<line x1="107.64" y1="487.49" x2="107.64" y2="493.77" stroke="#26a026" stroke-width="1.3" />
<line x1="105.44" y1="487.49" x2="109.84" y2="487.49" stroke="#26a026" stroke-width="1.3" />
<line x1="105.44" y1="493.77" x2="109.84" y2="493.77" stroke="#26a026" stroke-width="1.3" />
<circle cx="107.64" cy="490.63" r="1.85" fill="#26a026"/>
<line x1="125.62" y1="476.49" x2="125.62" y2="484.35" stroke="#26a026" stroke-width="1.3" />
<line x1="123.42" y1="476.49" x2="127.83" y2="476.49" stroke="#26a026" stroke-width="1.3" />
<line x1="123.42" y1="484.35" x2="127.83" y2="484.35" stroke="#26a026" stroke-width="1.3" />
<circle cx="125.62" cy="480.42" r="1.85" fill="#26a026"/>
<line x1="143.61" y1="471.38" x2="143.61" y2="480.81" stroke="#26a026" stroke-width="1.3" />
<line x1="141.41" y1="471.38" x2="145.81" y2="471.38" stroke="#26a026" stroke-width="1.3" />
<line x1="141.41" y1="480.81" x2="145.81" y2="480.81" stroke="#26a026" stroke-width="1.3" />
<circle cx="143.61" cy="476.10" r="1.85" fill="#26a026"/>
<line x1="161.59" y1="467.85" x2="161.59" y2="477.28" stroke="#26a026" stroke-width="1.3" />
<line x1="159.40" y1="467.85" x2="163.79" y2="467.85" stroke="#26a026" stroke-width="1.3" />
<line x1="159.40" y1="477.28" x2="163.79" y2="477.28" stroke="#26a026" stroke-width="1.3" />
<circle cx="161.59" cy="472.56" r="1.85" fill="#26a026"/>
<line x1="179.58" y1="471.78" x2="179.58" y2="481.20" stroke="#26a026" stroke-width="1.3" />
<line x1="177.38" y1="471.78" x2="181.78" y2="471.78" stroke="#26a026" stroke-width="1.3" />
<line x1="177.38" y1="481.20" x2="181.78" y2="481.20" stroke="#26a026" stroke-width="1.3" />
<circle cx="179.58" cy="476.49" r="1.85" fill="#26a026"/>
<line x1="197.56" y1="475.31" x2="197.56" y2="484.74" stroke="#26a026" stroke-width="1.3" />
<line x1="195.37" y1="475.31" x2="199.76" y2="475.31" stroke="#26a026" stroke-width="1.3" />
<line x1="195.37" y1="484.74" x2="199.76" y2="484.74" stroke="#26a026" stroke-width="1.3" />
<circle cx="197.56" cy="480.03" r="1.85" fill="#26a026"/>
<line x1="215.55" y1="481.60" x2="215.55" y2="491.02" stroke="#26a026" stroke-width="1.3" />
<line x1="213.35" y1="481.60" x2="217.75" y2="481.60" stroke="#26a026" stroke-width="1.3" />
<line x1="213.35" y1="491.02" x2="217.75" y2="491.02" stroke="#26a026" stroke-width="1.3" />
<circle cx="215.55" cy="486.31" r="1.85" fill="#26a026"/>
<line x1="233.54" y1="489.45" x2="233.54" y2="498.09" stroke="#26a026" stroke-width="1.3" />
<line x1="231.34" y1="489.45" x2="235.74" y2="489.45" stroke="#26a026" stroke-width="1.3" />
<line x1="231.34" y1="498.09" x2="235.74" y2="498.09" stroke="#26a026" stroke-width="1.3" />
<circle cx="233.54" cy="493.77" r="1.85" fill="#26a026"/>
<line x1="251.52" y1="495.74" x2="251.52" y2="505.95" stroke="#26a026" stroke-width="1.3" />
<line x1="249.32" y1="495.74" x2="253.72" y2="495.74" stroke="#26a026" stroke-width="1.3" />
<line x1="249.32" y1="505.95" x2="253.72" y2="505.95" stroke="#26a026" stroke-width="1.3" />
<circle cx="251.52" cy="500.84" r="1.85" fill="#26a026"/>
<line x1="269.50" y1="502.02" x2="269.50" y2="511.45" stroke="#26a026" stroke-width="1.3" />
<line x1="267.31" y1="502.02" x2="271.70" y2="502.02" stroke="#26a026" stroke-width="1.3" />
<line x1="267.31" y1="511.45" x2="271.70" y2="511.45" stroke="#26a026" stroke-width="1.3" />
<circle cx="269.50" cy="506.74" r="1.85" fill="#26a026"/>
<line x1="287.49" y1="510.27" x2="287.49" y2="518.91" stroke="#26a026" stroke-width="1.3" />
<line x1="285.29" y1="510.27" x2="289.69" y2="510.27" stroke="#26a026" stroke-width="1.3" />
<line x1="285.29" y1="518.91" x2="289.69" y2="518.91" stroke="#26a026" stroke-width="1.3" />
<circle cx="287.49" cy="514.59" r="1.85" fill="#26a026"/>
<line x1="305.47" y1="521.66" x2="305.47" y2="528.73" stroke="#26a026" stroke-width="1.3" />
<line x1="303.27" y1="521.66" x2="307.67" y2="521.66" stroke="#26a026" stroke-width="1.3" />
<line x1="303.27" y1="528.73" x2="307.67" y2="528.73" stroke="#26a026" stroke-width="1.3" />
<circle cx="305.47" cy="525.20" r="1.85" fill="#26a026"/>
<line x1="323.46" y1="518.13" x2="323.46" y2="523.63" stroke="#26a026" stroke-width="1.3" />
<line x1="321.26" y1="518.13" x2="325.66" y2="518.13" stroke="#26a026" stroke-width="1.3" />
<line x1="321.26" y1="523.63" x2="325.66" y2="523.63" stroke="#26a026" stroke-width="1.3" />
<circle cx="323.46" cy="520.88" r="1.85" fill="#26a026"/>
<line x1="341.44" y1="516.56" x2="341.44" y2="523.63" stroke="#26a026" stroke-width="1.3" />
<line x1="339.25" y1="516.56" x2="343.64" y2="516.56" stroke="#26a026" stroke-width="1.3" />
<line x1="339.25" y1="523.63" x2="343.64" y2="523.63" stroke="#26a026" stroke-width="1.3" />
<circle cx="341.44" cy="520.09" r="1.85" fill="#26a026"/>
<line x1="359.43" y1="523.63" x2="359.43" y2="529.91" stroke="#26a026" stroke-width="1.3" />
<line x1="357.23" y1="523.63" x2="361.63" y2="523.63" stroke="#26a026" stroke-width="1.3" />
<line x1="357.23" y1="529.91" x2="361.63" y2="529.91" stroke="#26a026" stroke-width="1.3" />
<circle cx="359.43" cy="526.77" r="1.85" fill="#26a026"/>
<circle cx="35.70" cy="557.80" r="1.85" fill="#d82828"/>
<line x1="53.69" y1="553.09" x2="53.69" y2="554.66" stroke="#d82828" stroke-width="1.3" />
<line x1="51.48" y1="553.09" x2="55.89" y2="553.09" stroke="#d82828" stroke-width="1.3" />
<line x1="51.48" y1="554.66" x2="55.89" y2="554.66" stroke="#d82828" stroke-width="1.3" />
<circle cx="53.69" cy="553.87" r="1.85" fill="#d82828"/>
<line x1="71.67" y1="518.13" x2="71.67" y2="522.84" stroke="#d82828" stroke-width="1.3" />
<line x1="69.47" y1="518.13" x2="73.87" y2="518.13" stroke="#d82828" stroke-width="1.3" />
<line x1="69.47" y1="522.84" x2="73.87" y2="522.84" stroke="#d82828" stroke-width="1.3" />
<circle cx="71.67" cy="520.48" r="1.85" fill="#d82828"/>
<line x1="89.66" y1="507.91" x2="89.66" y2="514.20" stroke="#d82828" stroke-width="1.3" />
<line x1="87.45" y1="507.91" x2="91.86" y2="507.91" stroke="#d82828" stroke-width="1.3" />
<line x1="87.45" y1="514.20" x2="91.86" y2="514.20" stroke="#d82828" stroke-width="1.3" />
<circle cx="89.66" cy="511.06" r="1.85" fill="#d82828"/>
<line x1="107.64" y1="492.99" x2="107.64" y2="500.84" stroke="#d82828" stroke-width="1.3" />
<line x1="105.44" y1="492.99" x2="109.84" y2="492.99" stroke="#d82828" stroke-width="1.3" />
<line x1="105.44" y1="500.84" x2="109.84" y2="500.84" stroke="#d82828" stroke-width="1.3" />
<circle cx="107.64" cy="496.92" r="1.85" fill="#d82828"/>
<line x1="125.62" y1="481.99" x2="125.62" y2="489.85" stroke="#d82828" stroke-width="1.3" />
<line x1="123.42" y1="481.99" x2="127.83" y2="481.99" stroke="#d82828" stroke-width="1.3" />
<line x1="123.42" y1="489.85" x2="127.83" y2="489.85" stroke="#d82828" stroke-width="1.3" />
<circle cx="125.62" cy="485.92" r="1.85" fill="#d82828"/>
<line x1="143.61" y1="475.31" x2="143.61" y2="484.74" stroke="#d82828" stroke-width="1.3" />
<line x1="141.41" y1="475.31" x2="145.81" y2="475.31" stroke="#d82828" stroke-width="1.3" />
<line x1="141.41" y1="484.74" x2="145.81" y2="484.74" stroke="#d82828" stroke-width="1.3" />
<circle cx="143.61" cy="480.03" r="1.85" fill="#d82828"/>
<line x1="161.59" y1="477.28" x2="161.59" y2="486.70" stroke="#d82828" stroke-width="1.3" />
<line x1="159.40" y1="477.28" x2="163.79" y2="477.28" stroke="#d82828" stroke-width="1.3" />
<line x1="159.40" y1="486.70" x2="163.79" y2="486.70" stroke="#d82828" stroke-width="1.3" />
<circle cx="161.59" cy="481.99" r="1.85" fill="#d82828"/>
<line x1="179.58" y1="483.95" x2="179.58" y2="493.38" stroke="#d82828" stroke-width="1.3" />
<line x1="177.38" y1="483.95" x2="181.78" y2="483.95" stroke="#d82828" stroke-width="1.3" />
<line x1="177.38" y1="493.38" x2="181.78" y2="493.38" stroke="#d82828" stroke-width="1.3" />
<circle cx="179.58" cy="488.67" r="1.85" fill="#d82828"/>
<line x1="197.56" y1="485.92" x2="197.56" y2="496.13" stroke="#d82828" stroke-width="1.3" />
<line x1="195.37" y1="485.92" x2="199.76" y2="485.92" stroke="#d82828" stroke-width="1.3" />
<line x1="195.37" y1="496.13" x2="199.76" y2="496.13" stroke="#d82828" stroke-width="1.3" />
<circle cx="197.56" cy="491.02" r="1.85" fill="#d82828"/>
<line x1="215.55" y1="487.88" x2="215.55" y2="496.52" stroke="#d82828" stroke-width="1.3" />
<line x1="213.35" y1="487.88" x2="217.75" y2="487.88" stroke="#d82828" stroke-width="1.3" />
<line x1="213.35" y1="496.52" x2="217.75" y2="496.52" stroke="#d82828" stroke-width="1.3" />
<circle cx="215.55" cy="492.20" r="1.85" fill="#d82828"/>
<line x1="233.54" y1="496.52" x2="233.54" y2="504.38" stroke="#d82828" stroke-width="1.3" />
<line x1="231.34" y1="496.52" x2="235.74" y2="496.52" stroke="#d82828" stroke-width="1.3" />
<line x1="231.34" y1="504.38" x2="235.74" y2="504.38" stroke="#d82828" stroke-width="1.3" />
<circle cx="233.54" cy="500.45" r="1.85" fill="#d82828"/>
<line x1="251.52" y1="508.31" x2="251.52" y2="515.38" stroke="#d82828" stroke-width="1.3" />
<line x1="249.32" y1="508.31" x2="253.72" y2="508.31" stroke="#d82828" stroke-width="1.3" />
<line x1="249.32" y1="515.38" x2="253.72" y2="515.38" stroke="#d82828" stroke-width="1.3" />
<circle cx="251.52" cy="511.84" r="1.85" fill="#d82828"/>
<line x1="269.50" y1="507.13" x2="269.50" y2="514.98" stroke="#d82828" stroke-width="1.3" />
<line x1="267.31" y1="507.13" x2="271.70" y2="507.13" stroke="#d82828" stroke-width="1.3" />
<line x1="267.31" y1="514.98" x2="271.70" y2="514.98" stroke="#d82828" stroke-width="1.3" />
<circle cx="269.50" cy="511.06" r="1.85" fill="#d82828"/>
<line x1="287.49" y1="514.98" x2="287.49" y2="522.84" stroke="#d82828" stroke-width="1.3" />
<line x1="285.29" y1="514.98" x2="289.69" y2="514.98" stroke="#d82828" stroke-width="1.3" />
<line x1="285.29" y1="522.84" x2="289.69" y2="522.84" stroke="#d82828" stroke-width="1.3" />
<circle cx="287.49" cy="518.91" r="1.85" fill="#d82828"/>
<line x1="305.47" y1="515.38" x2="305.47" y2="523.23" stroke="#d82828" stroke-width="1.3" />
<line x1="303.27" y1="515.38" x2="307.67" y2="515.38" stroke="#d82828" stroke-width="1.3" />
<line x1="303.27" y1="523.23" x2="307.67" y2="523.23" stroke="#d82828" stroke-width="1.3" />
<circle cx="305.47" cy="519.31" r="1.85" fill="#d82828"/>
<line x1="323.46" y1="520.88" x2="323.46" y2="527.16" stroke="#d82828" stroke-width="1.3" />
<line x1="321.26" y1="520.88" x2="325.66" y2="520.88" stroke="#d82828" stroke-width="1.3" />
<line x1="321.26" y1="527.16" x2="325.66" y2="527.16" stroke="#d82828" stroke-width="1.3" />
<circle cx="323.46" cy="524.02" r="1.85" fill="#d82828"/>
<line x1="341.44" y1="524.02" x2="341.44" y2="531.09" stroke="#d82828" stroke-width="1.3" />
<line x1="339.25" y1="524.02" x2="343.64" y2="524.02" stroke="#d82828" stroke-width="1.3" />
<line x1="339.25" y1="531.09" x2="343.64" y2="531.09" stroke="#d82828" stroke-width="1.3" />
<circle cx="341.44" cy="527.55" r="1.85" fill="#d82828"/>
<line x1="359.43" y1="531.09" x2="359.43" y2="537.37" stroke="#d82828" stroke-width="1.3" />
<line x1="357.23" y1="531.09" x2="361.63" y2="531.09" stroke="#d82828" stroke-width="1.3" />
<line x1="357.23" y1="537.37" x2="361.63" y2="537.37" stroke="#d82828" stroke-width="1.3" />
<circle cx="359.43" cy="534.23" r="1.85" fill="#d82828"/>
<line x1="35.70" y1="647.90" x2="35.70" y2="747.80" stroke="#333333" stroke-width="1.25" />
<line x1="35.10" y1="747.20" x2="396.00" y2="747.20" stroke="#333333" stroke-width="1.25" />
<line x1="33.20" y1="747.20" x2="35.70" y2="747.20" stroke="#333333" stroke-width="1.0" />
<text transform="translate(32.30 749.70) scale(0.88 1)" x="0" y="0" font-size="8.8" text-anchor="end" fill="#1a1a1a" stroke="#1a1a1a" stroke-width="0.25">0</text>
<line x1="33.20" y1="714.23" x2="35.70" y2="714.23" stroke="#333333" stroke-width="1.0" />
<text transform="translate(32.30 716.73) scale(0.88 1)" x="0" y="0" font-size="8.8" text-anchor="end" fill="#1a1a1a" stroke="#1a1a1a" stroke-width="0.25">20</text>
<line x1="33.20" y1="681.27" x2="35.70" y2="681.27" stroke="#333333" stroke-width="1.0" />
<text transform="translate(32.30 683.77) scale(0.88 1)" x="0" y="0" font-size="8.8" text-anchor="end" fill="#1a1a1a" stroke="#1a1a1a" stroke-width="0.25">40</text>
<line x1="33.20" y1="648.30" x2="35.70" y2="648.30" stroke="#333333" stroke-width="1.0" />
<text transform="translate(32.30 650.80) scale(0.88 1)" x="0" y="0" font-size="8.8" text-anchor="end" fill="#1a1a1a" stroke="#1a1a1a" stroke-width="0.25">60</text>
<line x1="35.70" y1="747.20" x2="35.70" y2="749.70" stroke="#333333" stroke-width="1.0" />
<text transform="translate(35.70 757.50) scale(0.88 1)" x="0" y="0" font-size="8.8" text-anchor="middle" fill="#1a1a1a" stroke="#1a1a1a" stroke-width="0.25">0</text>
<line x1="71.67" y1="747.20" x2="71.67" y2="749.70" stroke="#333333" stroke-width="1.0" />
<text transform="translate(71.67 757.50) scale(0.88 1)" x="0" y="0" font-size="8.8" text-anchor="middle" fill="#1a1a1a" stroke="#1a1a1a" stroke-width="0.25">20</text>
<line x1="107.64" y1="747.20" x2="107.64" y2="749.70" stroke="#333333" stroke-width="1.0" />
<text transform="translate(107.64 757.50) scale(0.88 1)" x="0" y="0" font-size="8.8" text-anchor="middle" fill="#1a1a1a" stroke="#1a1a1a" stroke-width="0.25">40</text>
<line x1="143.61" y1="747.20" x2="143.61" y2="749.70" stroke="#333333" stroke-width="1.0" />
<text transform="translate(143.61 757.50) scale(0.88 1)" x="0" y="0" font-size="8.8" text-anchor="middle" fill="#1a1a1a" stroke="#1a1a1a" stroke-width="0.25">60</text>
<line x1="179.58" y1="747.20" x2="179.58" y2="749.70" stroke="#333333" stroke-width="1.0" />
<text transform="translate(179.58 757.50) scale(0.88 1)" x="0" y="0" font-size="8.8" text-anchor="middle" fill="#1a1a1a" stroke="#1a1a1a" stroke-width="0.25">80</text>
<line x1="215.55" y1="747.20" x2="215.55" y2="749.70" stroke="#333333" stroke-width="1.0" />
<text transform="translate(215.55 757.50) scale(0.88 1)" x="0" y="0" font-size="8.8" text-anchor="middle" fill="#1a1a1a" stroke="#1a1a1a" stroke-width="0.25">100</text>
<line x1="251.52" y1="747.20" x2="251.52" y2="749.70" stroke="#333333" stroke-width="1.0" />
<text transform="translate(251.52 757.50) scale(0.88 1)" x="0" y="0" font-size="8.8" text-anchor="middle" fill="#1a1a1a" stroke="#1a1a1a" stroke-width="0.25">120</text>
<line x1="287.49" y1="747.20" x2="287.49" y2="749.70" stroke="#333333" stroke-width="1.0" />
<text transform="translate(287.49 757.50) scale(0.88 1)" x="0" y="0" font-size="8.8" text-anchor="middle" fill="#1a1a1a" stroke="#1a1a1a" stroke-width="0.25">140</text>
<line x1="323.46" y1="747.20" x2="323.46" y2="749.70" stroke="#333333" stroke-width="1.0" />
<text transform="translate(323.46 757.50) scale(0.88 1)" x="0" y="0" font-size="8.8" text-anchor="middle" fill="#1a1a1a" stroke="#1a1a1a" stroke-width="0.25">160</text>
<line x1="359.43" y1="747.20" x2="359.43" y2="749.70" stroke="#333333" stroke-width="1.0" />
<text transform="translate(359.43 757.50) scale(0.88 1)" x="0" y="0" font-size="8.8" text-anchor="middle" fill="#1a1a1a" stroke="#1a1a1a" stroke-width="0.25">180</text>
<line x1="395.40" y1="747.20" x2="395.40" y2="749.70" stroke="#333333" stroke-width="1.0" />
<text transform="translate(395.40 757.50) scale(0.88 1)" x="0" y="0" font-size="8.8" text-anchor="middle" fill="#1a1a1a" stroke="#1a1a1a" stroke-width="0.25">200</text>
<text x="215.70" y="775.10" font-size="10.1" font-weight="bold" text-anchor="middle" fill="#000" >Distance from soma (µm)</text>
<text x="215.60" y="646.00" font-size="13.5" font-weight="bold" text-anchor="middle" fill="#000" >Sholl</text>
<text x="9.60" y="633.50" font-size="19.5" font-weight="bold" text-anchor="start" fill="#000" >G</text>
<text transform="translate(13.60 697.20) rotate(-90) scale(1.0825 1)" x="0" y="0" font-size="9.6" font-weight="bold" text-anchor="middle">Volume (µm<tspan font-size="7.5" dy="-4.5">3</tspan><tspan dy="4.5">)</tspan></text>
<polyline points="35.70,747.20 53.69,737.31 71.67,671.38 89.66,679.62 107.64,677.97 125.62,679.62 143.61,679.62 161.59,677.97 179.58,681.27 197.56,687.86 215.55,689.51 233.54,694.45 251.52,694.45 269.50,696.10 287.49,705.99 305.47,710.11 323.46,715.88 341.44,717.04 359.43,718.85" fill="none" stroke="#2424b8" stroke-width="1.0"/>
<polyline points="35.70,747.20 53.69,735.66 71.67,672.20 89.66,679.62 107.64,681.27 125.62,680.61 143.61,680.44 161.59,679.62 179.58,681.27 197.56,686.21 215.55,691.16 233.54,697.75 251.52,701.05 269.50,705.99 287.49,711.60 305.47,721.16 323.46,718.02 341.44,718.85 359.43,723.13" fill="none" stroke="#26a026" stroke-width="1.0"/>
<polyline points="35.70,747.20 53.69,738.96 71.67,668.08 89.66,671.38 107.64,677.15 125.62,676.32 143.61,674.67 161.59,679.62 179.58,686.21 197.56,689.51 215.55,692.80 233.54,698.74 251.52,710.44 269.50,710.44 287.49,715.88 305.47,718.19 323.46,723.13 341.44,724.12 359.43,729.07" fill="none" stroke="#d82828" stroke-width="1.0"/>
<circle cx="35.70" cy="747.20" r="1.85" fill="#2424b8"/>
<line x1="53.69" y1="735.66" x2="53.69" y2="738.96" stroke="#2424b8" stroke-width="1.3" />
<line x1="51.48" y1="735.66" x2="55.89" y2="735.66" stroke="#2424b8" stroke-width="1.3" />
<line x1="51.48" y1="738.96" x2="55.89" y2="738.96" stroke="#2424b8" stroke-width="1.3" />
<circle cx="53.69" cy="737.31" r="1.85" fill="#2424b8"/>
<line x1="71.67" y1="663.13" x2="71.67" y2="679.62" stroke="#2424b8" stroke-width="1.3" />
<line x1="69.47" y1="663.13" x2="73.87" y2="663.13" stroke="#2424b8" stroke-width="1.3" />
<line x1="69.47" y1="679.62" x2="73.87" y2="679.62" stroke="#2424b8" stroke-width="1.3" />
<circle cx="71.67" cy="671.38" r="1.85" fill="#2424b8"/>
<line x1="89.66" y1="674.67" x2="89.66" y2="684.56" stroke="#2424b8" stroke-width="1.3" />
<line x1="87.45" y1="674.67" x2="91.86" y2="674.67" stroke="#2424b8" stroke-width="1.3" />
<line x1="87.45" y1="684.56" x2="91.86" y2="684.56" stroke="#2424b8" stroke-width="1.3" />
<circle cx="89.66" cy="679.62" r="1.85" fill="#2424b8"/>
<line x1="107.64" y1="673.02" x2="107.64" y2="682.92" stroke="#2424b8" stroke-width="1.3" />
<line x1="105.44" y1="673.02" x2="109.84" y2="673.02" stroke="#2424b8" stroke-width="1.3" />
<line x1="105.44" y1="682.92" x2="109.84" y2="682.92" stroke="#2424b8" stroke-width="1.3" />
<circle cx="107.64" cy="677.97" r="1.85" fill="#2424b8"/>
<line x1="125.62" y1="675.50" x2="125.62" y2="683.74" stroke="#2424b8" stroke-width="1.3" />
<line x1="123.42" y1="675.50" x2="127.83" y2="675.50" stroke="#2424b8" stroke-width="1.3" />
<line x1="123.42" y1="683.74" x2="127.83" y2="683.74" stroke="#2424b8" stroke-width="1.3" />
<circle cx="125.62" cy="679.62" r="1.85" fill="#2424b8"/>
<line x1="143.61" y1="675.50" x2="143.61" y2="683.74" stroke="#2424b8" stroke-width="1.3" />
<line x1="141.41" y1="675.50" x2="145.81" y2="675.50" stroke="#2424b8" stroke-width="1.3" />
<line x1="141.41" y1="683.74" x2="145.81" y2="683.74" stroke="#2424b8" stroke-width="1.3" />
<circle cx="143.61" cy="679.62" r="1.85" fill="#2424b8"/>
<line x1="161.59" y1="673.02" x2="161.59" y2="682.92" stroke="#2424b8" stroke-width="1.3" />
<line x1="159.40" y1="673.02" x2="163.79" y2="673.02" stroke="#2424b8" stroke-width="1.3" />
<line x1="159.40" y1="682.92" x2="163.79" y2="682.92" stroke="#2424b8" stroke-width="1.3" />
<circle cx="161.59" cy="677.97" r="1.85" fill="#2424b8"/>
<line x1="179.58" y1="676.32" x2="179.58" y2="686.21" stroke="#2424b8" stroke-width="1.3" />
<line x1="177.38" y1="676.32" x2="181.78" y2="676.32" stroke="#2424b8" stroke-width="1.3" />
<line x1="177.38" y1="686.21" x2="181.78" y2="686.21" stroke="#2424b8" stroke-width="1.3" />
<circle cx="179.58" cy="681.27" r="1.85" fill="#2424b8"/>
<line x1="197.56" y1="682.91" x2="197.56" y2="692.81" stroke="#2424b8" stroke-width="1.3" />
<line x1="195.37" y1="682.91" x2="199.76" y2="682.91" stroke="#2424b8" stroke-width="1.3" />
<line x1="195.37" y1="692.81" x2="199.76" y2="692.81" stroke="#2424b8" stroke-width="1.3" />
<circle cx="197.56" cy="687.86" r="1.85" fill="#2424b8"/>
<line x1="215.55" y1="684.56" x2="215.55" y2="694.45" stroke="#2424b8" stroke-width="1.3" />
<line x1="213.35" y1="684.56" x2="217.75" y2="684.56" stroke="#2424b8" stroke-width="1.3" />
<line x1="213.35" y1="694.45" x2="217.75" y2="694.45" stroke="#2424b8" stroke-width="1.3" />
<circle cx="215.55" cy="689.51" r="1.85" fill="#2424b8"/>
<line x1="233.54" y1="690.33" x2="233.54" y2="698.57" stroke="#2424b8" stroke-width="1.3" />
<line x1="231.34" y1="690.33" x2="235.74" y2="690.33" stroke="#2424b8" stroke-width="1.3" />
<line x1="231.34" y1="698.57" x2="235.74" y2="698.57" stroke="#2424b8" stroke-width="1.3" />
<circle cx="233.54" cy="694.45" r="1.85" fill="#2424b8"/>
<line x1="251.52" y1="689.51" x2="251.52" y2="699.40" stroke="#2424b8" stroke-width="1.3" />
<line x1="249.32" y1="689.51" x2="253.72" y2="689.51" stroke="#2424b8" stroke-width="1.3" />
<line x1="249.32" y1="699.40" x2="253.72" y2="699.40" stroke="#2424b8" stroke-width="1.3" />
<circle cx="251.52" cy="694.45" r="1.85" fill="#2424b8"/>
<line x1="269.50" y1="691.16" x2="269.50" y2="701.05" stroke="#2424b8" stroke-width="1.3" />
<line x1="267.31" y1="691.16" x2="271.70" y2="691.16" stroke="#2424b8" stroke-width="1.3" />
<line x1="267.31" y1="701.05" x2="271.70" y2="701.05" stroke="#2424b8" stroke-width="1.3" />
<circle cx="269.50" cy="696.10" r="1.85" fill="#2424b8"/>
<line x1="287.49" y1="701.87" x2="287.49" y2="710.11" stroke="#2424b8" stroke-width="1.3" />
<line x1="285.29" y1="701.87" x2="289.69" y2="701.87" stroke="#2424b8" stroke-width="1.3" />
<line x1="285.29" y1="710.11" x2="289.69" y2="710.11" stroke="#2424b8" stroke-width="1.3" />
<circle cx="287.49" cy="705.99" r="1.85" fill="#2424b8"/>
<line x1="305.47" y1="706.82" x2="305.47" y2="713.41" stroke="#2424b8" stroke-width="1.3" />
<line x1="303.27" y1="706.82" x2="307.67" y2="706.82" stroke="#2424b8" stroke-width="1.3" />
<line x1="303.27" y1="713.41" x2="307.67" y2="713.41" stroke="#2424b8" stroke-width="1.3" />
<circle cx="305.47" cy="710.11" r="1.85" fill="#2424b8"/>
<line x1="323.46" y1="712.59" x2="323.46" y2="719.18" stroke="#2424b8" stroke-width="1.3" />
<line x1="321.26" y1="712.59" x2="325.66" y2="712.59" stroke="#2424b8" stroke-width="1.3" />
<line x1="321.26" y1="719.18" x2="325.66" y2="719.18" stroke="#2424b8" stroke-width="1.3" />
<circle cx="323.46" cy="715.88" r="1.85" fill="#2424b8"/>
<line x1="341.44" y1="714.56" x2="341.44" y2="719.51" stroke="#2424b8" stroke-width="1.3" />
<line x1="339.25" y1="714.56" x2="343.64" y2="714.56" stroke="#2424b8" stroke-width="1.3" />
<line x1="339.25" y1="719.51" x2="343.64" y2="719.51" stroke="#2424b8" stroke-width="1.3" />
<circle cx="341.44" cy="717.04" r="1.85" fill="#2424b8"/>
<line x1="359.43" y1="716.38" x2="359.43" y2="721.32" stroke="#2424b8" stroke-width="1.3" />
<line x1="357.23" y1="716.38" x2="361.63" y2="716.38" stroke="#2424b8" stroke-width="1.3" />
<line x1="357.23" y1="721.32" x2="361.63" y2="721.32" stroke="#2424b8" stroke-width="1.3" />
<circle cx="359.43" cy="718.85" r="1.85" fill="#2424b8"/>
<circle cx="35.70" cy="747.20" r="1.85" fill="#26a026"/>
<line x1="53.69" y1="734.01" x2="53.69" y2="737.31" stroke="#26a026" stroke-width="1.3" />
<line x1="51.48" y1="734.01" x2="55.89" y2="734.01" stroke="#26a026" stroke-width="1.3" />
<line x1="51.48" y1="737.31" x2="55.89" y2="737.31" stroke="#26a026" stroke-width="1.3" />
<circle cx="53.69" cy="735.66" r="1.85" fill="#26a026"/>
<line x1="71.67" y1="665.61" x2="71.67" y2="678.79" stroke="#26a026" stroke-width="1.3" />
<line x1="69.47" y1="665.61" x2="73.87" y2="665.61" stroke="#26a026" stroke-width="1.3" />
<line x1="69.47" y1="678.79" x2="73.87" y2="678.79" stroke="#26a026" stroke-width="1.3" />
<circle cx="71.67" cy="672.20" r="1.85" fill="#26a026"/>
<line x1="89.66" y1="674.67" x2="89.66" y2="684.56" stroke="#26a026" stroke-width="1.3" />
<line x1="87.45" y1="674.67" x2="91.86" y2="674.67" stroke="#26a026" stroke-width="1.3" />
<line x1="87.45" y1="684.56" x2="91.86" y2="684.56" stroke="#26a026" stroke-width="1.3" />
<circle cx="89.66" cy="679.62" r="1.85" fill="#26a026"/>
<line x1="107.64" y1="676.32" x2="107.64" y2="686.21" stroke="#26a026" stroke-width="1.3" />
<line x1="105.44" y1="676.32" x2="109.84" y2="676.32" stroke="#26a026" stroke-width="1.3" />
<line x1="105.44" y1="686.21" x2="109.84" y2="686.21" stroke="#26a026" stroke-width="1.3" />
<circle cx="107.64" cy="681.27" r="1.85" fill="#26a026"/>
<line x1="125.62" y1="676.49" x2="125.62" y2="684.73" stroke="#26a026" stroke-width="1.3" />
<line x1="123.42" y1="676.49" x2="127.83" y2="676.49" stroke="#26a026" stroke-width="1.3" />
<line x1="123.42" y1="684.73" x2="127.83" y2="684.73" stroke="#26a026" stroke-width="1.3" />
<circle cx="125.62" cy="680.61" r="1.85" fill="#26a026"/>
<line x1="143.61" y1="676.32" x2="143.61" y2="684.56" stroke="#26a026" stroke-width="1.3" />
<line x1="141.41" y1="676.32" x2="145.81" y2="676.32" stroke="#26a026" stroke-width="1.3" />
<line x1="141.41" y1="684.56" x2="145.81" y2="684.56" stroke="#26a026" stroke-width="1.3" />
<circle cx="143.61" cy="680.44" r="1.85" fill="#26a026"/>
<line x1="161.59" y1="674.67" x2="161.59" y2="684.56" stroke="#26a026" stroke-width="1.3" />
<line x1="159.40" y1="674.67" x2="163.79" y2="674.67" stroke="#26a026" stroke-width="1.3" />
<line x1="159.40" y1="684.56" x2="163.79" y2="684.56" stroke="#26a026" stroke-width="1.3" />
<circle cx="161.59" cy="679.62" r="1.85" fill="#26a026"/>
<line x1="179.58" y1="676.32" x2="179.58" y2="686.21" stroke="#26a026" stroke-width="1.3" />
<line x1="177.38" y1="676.32" x2="181.78" y2="676.32" stroke="#26a026" stroke-width="1.3" />
<line x1="177.38" y1="686.21" x2="181.78" y2="686.21" stroke="#26a026" stroke-width="1.3" />
<circle cx="179.58" cy="681.27" r="1.85" fill="#26a026"/>
<line x1="197.56" y1="681.27" x2="197.56" y2="691.16" stroke="#26a026" stroke-width="1.3" />
<line x1="195.37" y1="681.27" x2="199.76" y2="681.27" stroke="#26a026" stroke-width="1.3" />
<line x1="195.37" y1="691.16" x2="199.76" y2="691.16" stroke="#26a026" stroke-width="1.3" />
<circle cx="197.56" cy="686.21" r="1.85" fill="#26a026"/>
<line x1="215.55" y1="686.21" x2="215.55" y2="696.10" stroke="#26a026" stroke-width="1.3" />
<line x1="213.35" y1="686.21" x2="217.75" y2="686.21" stroke="#26a026" stroke-width="1.3" />
<line x1="213.35" y1="696.10" x2="217.75" y2="696.10" stroke="#26a026" stroke-width="1.3" />
<circle cx="215.55" cy="691.16" r="1.85" fill="#26a026"/>
<line x1="233.54" y1="693.63" x2="233.54" y2="701.87" stroke="#26a026" stroke-width="1.3" />
<line x1="231.34" y1="693.63" x2="235.74" y2="693.63" stroke="#26a026" stroke-width="1.3" />
<line x1="231.34" y1="701.87" x2="235.74" y2="701.87" stroke="#26a026" stroke-width="1.3" />
<circle cx="233.54" cy="697.75" r="1.85" fill="#26a026"/>
<line x1="251.52" y1="696.10" x2="251.52" y2="705.99" stroke="#26a026" stroke-width="1.3" />
<line x1="249.32" y1="696.10" x2="253.72" y2="696.10" stroke="#26a026" stroke-width="1.3" />
<line x1="249.32" y1="705.99" x2="253.72" y2="705.99" stroke="#26a026" stroke-width="1.3" />
<circle cx="251.52" cy="701.05" r="1.85" fill="#26a026"/>
<line x1="269.50" y1="701.05" x2="269.50" y2="710.94" stroke="#26a026" stroke-width="1.3" />
<line x1="267.31" y1="701.05" x2="271.70" y2="701.05" stroke="#26a026" stroke-width="1.3" />
<line x1="267.31" y1="710.94" x2="271.70" y2="710.94" stroke="#26a026" stroke-width="1.3" />
<circle cx="269.50" cy="705.99" r="1.85" fill="#26a026"/>
<line x1="287.49" y1="707.48" x2="287.49" y2="715.72" stroke="#26a026" stroke-width="1.3" />
<line x1="285.29" y1="707.48" x2="289.69" y2="707.48" stroke="#26a026" stroke-width="1.3" />
<line x1="285.29" y1="715.72" x2="289.69" y2="715.72" stroke="#26a026" stroke-width="1.3" />
<circle cx="287.49" cy="711.60" r="1.85" fill="#26a026"/>
<line x1="305.47" y1="717.86" x2="305.47" y2="724.45" stroke="#26a026" stroke-width="1.3" />
<line x1="303.27" y1="717.86" x2="307.67" y2="717.86" stroke="#26a026" stroke-width="1.3" />
<line x1="303.27" y1="724.45" x2="307.67" y2="724.45" stroke="#26a026" stroke-width="1.3" />
<circle cx="305.47" cy="721.16" r="1.85" fill="#26a026"/>
<line x1="323.46" y1="714.73" x2="323.46" y2="721.32" stroke="#26a026" stroke-width="1.3" />
<line x1="321.26" y1="714.73" x2="325.66" y2="714.73" stroke="#26a026" stroke-width="1.3" />
<line x1="321.26" y1="721.32" x2="325.66" y2="721.32" stroke="#26a026" stroke-width="1.3" />
<circle cx="323.46" cy="718.02" r="1.85" fill="#26a026"/>
<line x1="341.44" y1="716.38" x2="341.44" y2="721.32" stroke="#26a026" stroke-width="1.3" />
<line x1="339.25" y1="716.38" x2="343.64" y2="716.38" stroke="#26a026" stroke-width="1.3" />
<line x1="339.25" y1="721.32" x2="343.64" y2="721.32" stroke="#26a026" stroke-width="1.3" />
<circle cx="341.44" cy="718.85" r="1.85" fill="#26a026"/>
<line x1="359.43" y1="720.66" x2="359.43" y2="725.61" stroke="#26a026" stroke-width="1.3" />
<line x1="357.23" y1="720.66" x2="361.63" y2="720.66" stroke="#26a026" stroke-width="1.3" />
<line x1="357.23" y1="725.61" x2="361.63" y2="725.61" stroke="#26a026" stroke-width="1.3" />
<circle cx="359.43" cy="723.13" r="1.85" fill="#26a026"/>
<circle cx="35.70" cy="747.20" r="1.85" fill="#d82828"/>
<line x1="53.69" y1="737.31" x2="53.69" y2="740.61" stroke="#d82828" stroke-width="1.3" />
<line x1="51.48" y1="737.31" x2="55.89" y2="737.31" stroke="#d82828" stroke-width="1.3" />
<line x1="51.48" y1="740.61" x2="55.89" y2="740.61" stroke="#d82828" stroke-width="1.3" />
<circle cx="53.69" cy="738.96" r="1.85" fill="#d82828"/>
<line x1="71.67" y1="659.01" x2="71.67" y2="677.15" stroke="#d82828" stroke-width="1.3" />
<line x1="69.47" y1="659.01" x2="73.87" y2="659.01" stroke="#d82828" stroke-width="1.3" />
<line x1="69.47" y1="677.15" x2="73.87" y2="677.15" stroke="#d82828" stroke-width="1.3" />
<circle cx="71.67" cy="668.08" r="1.85" fill="#d82828"/>
<line x1="89.66" y1="662.31" x2="89.66" y2="680.44" stroke="#d82828" stroke-width="1.3" />
<line x1="87.45" y1="662.31" x2="91.86" y2="662.31" stroke="#d82828" stroke-width="1.3" />
<line x1="87.45" y1="680.44" x2="91.86" y2="680.44" stroke="#d82828" stroke-width="1.3" />
<circle cx="89.66" cy="671.38" r="1.85" fill="#d82828"/>
<line x1="107.64" y1="672.20" x2="107.64" y2="682.09" stroke="#d82828" stroke-width="1.3" />
<line x1="105.44" y1="672.20" x2="109.84" y2="672.20" stroke="#d82828" stroke-width="1.3" />
<line x1="105.44" y1="682.09" x2="109.84" y2="682.09" stroke="#d82828" stroke-width="1.3" />
<circle cx="107.64" cy="677.15" r="1.85" fill="#d82828"/>
<line x1="125.62" y1="671.38" x2="125.62" y2="681.27" stroke="#d82828" stroke-width="1.3" />
<line x1="123.42" y1="671.38" x2="127.83" y2="671.38" stroke="#d82828" stroke-width="1.3" />
<line x1="123.42" y1="681.27" x2="127.83" y2="681.27" stroke="#d82828" stroke-width="1.3" />
<circle cx="125.62" cy="676.32" r="1.85" fill="#d82828"/>
<line x1="143.61" y1="668.08" x2="143.61" y2="681.27" stroke="#d82828" stroke-width="1.3" />
<line x1="141.41" y1="668.08" x2="145.81" y2="668.08" stroke="#d82828" stroke-width="1.3" />
<line x1="141.41" y1="681.27" x2="145.81" y2="681.27" stroke="#d82828" stroke-width="1.3" />
<circle cx="143.61" cy="674.67" r="1.85" fill="#d82828"/>
<line x1="161.59" y1="674.67" x2="161.59" y2="684.56" stroke="#d82828" stroke-width="1.3" />
<line x1="159.40" y1="674.67" x2="163.79" y2="674.67" stroke="#d82828" stroke-width="1.3" />
<line x1="159.40" y1="684.56" x2="163.79" y2="684.56" stroke="#d82828" stroke-width="1.3" />
<circle cx="161.59" cy="679.62" r="1.85" fill="#d82828"/>
<line x1="179.58" y1="681.27" x2="179.58" y2="691.16" stroke="#d82828" stroke-width="1.3" />
<line x1="177.38" y1="681.27" x2="181.78" y2="681.27" stroke="#d82828" stroke-width="1.3" />
<line x1="177.38" y1="691.16" x2="181.78" y2="691.16" stroke="#d82828" stroke-width="1.3" />
<circle cx="179.58" cy="686.21" r="1.85" fill="#d82828"/>
<line x1="197.56" y1="683.74" x2="197.56" y2="695.28" stroke="#d82828" stroke-width="1.3" />
<line x1="195.37" y1="683.74" x2="199.76" y2="683.74" stroke="#d82828" stroke-width="1.3" />
<line x1="195.37" y1="695.28" x2="199.76" y2="695.28" stroke="#d82828" stroke-width="1.3" />
<circle cx="197.56" cy="689.51" r="1.85" fill="#d82828"/>
<line x1="215.55" y1="687.04" x2="215.55" y2="698.57" stroke="#d82828" stroke-width="1.3" />
<line x1="213.35" y1="687.04" x2="217.75" y2="687.04" stroke="#d82828" stroke-width="1.3" />
<line x1="213.35" y1="698.57" x2="217.75" y2="698.57" stroke="#d82828" stroke-width="1.3" />
<circle cx="215.55" cy="692.80" r="1.85" fill="#d82828"/>
<line x1="233.54" y1="693.79" x2="233.54" y2="703.68" stroke="#d82828" stroke-width="1.3" />
<line x1="231.34" y1="693.79" x2="235.74" y2="693.79" stroke="#d82828" stroke-width="1.3" />
<line x1="231.34" y1="703.68" x2="235.74" y2="703.68" stroke="#d82828" stroke-width="1.3" />
<circle cx="233.54" cy="698.74" r="1.85" fill="#d82828"/>
<line x1="251.52" y1="705.50" x2="251.52" y2="715.39" stroke="#d82828" stroke-width="1.3" />
<line x1="249.32" y1="705.50" x2="253.72" y2="705.50" stroke="#d82828" stroke-width="1.3" />
<line x1="249.32" y1="715.39" x2="253.72" y2="715.39" stroke="#d82828" stroke-width="1.3" />
<circle cx="251.52" cy="710.44" r="1.85" fill="#d82828"/>
<line x1="269.50" y1="705.50" x2="269.50" y2="715.39" stroke="#d82828" stroke-width="1.3" />
<line x1="267.31" y1="705.50" x2="271.70" y2="705.50" stroke="#d82828" stroke-width="1.3" />
<line x1="267.31" y1="715.39" x2="271.70" y2="715.39" stroke="#d82828" stroke-width="1.3" />
<circle cx="269.50" cy="710.44" r="1.85" fill="#d82828"/>
<line x1="287.49" y1="710.94" x2="287.49" y2="720.83" stroke="#d82828" stroke-width="1.3" />
<line x1="285.29" y1="710.94" x2="289.69" y2="710.94" stroke="#d82828" stroke-width="1.3" />
<line x1="285.29" y1="720.83" x2="289.69" y2="720.83" stroke="#d82828" stroke-width="1.3" />
<circle cx="287.49" cy="715.88" r="1.85" fill="#d82828"/>
<line x1="305.47" y1="713.24" x2="305.47" y2="723.13" stroke="#d82828" stroke-width="1.3" />
<line x1="303.27" y1="713.24" x2="307.67" y2="713.24" stroke="#d82828" stroke-width="1.3" />
<line x1="303.27" y1="723.13" x2="307.67" y2="723.13" stroke="#d82828" stroke-width="1.3" />
<circle cx="305.47" cy="718.19" r="1.85" fill="#d82828"/>
<line x1="323.46" y1="719.01" x2="323.46" y2="727.26" stroke="#d82828" stroke-width="1.3" />
<line x1="321.26" y1="719.01" x2="325.66" y2="719.01" stroke="#d82828" stroke-width="1.3" />
<line x1="321.26" y1="727.26" x2="325.66" y2="727.26" stroke="#d82828" stroke-width="1.3" />
<circle cx="323.46" cy="723.13" r="1.85" fill="#d82828"/>
<line x1="341.44" y1="720.33" x2="341.44" y2="727.91" stroke="#d82828" stroke-width="1.3" />
<line x1="339.25" y1="720.33" x2="343.64" y2="720.33" stroke="#d82828" stroke-width="1.3" />
<line x1="339.25" y1="727.91" x2="343.64" y2="727.91" stroke="#d82828" stroke-width="1.3" />
<circle cx="341.44" cy="724.12" r="1.85" fill="#d82828"/>
<line x1="359.43" y1="725.44" x2="359.43" y2="732.69" stroke="#d82828" stroke-width="1.3" />
<line x1="357.23" y1="725.44" x2="361.63" y2="725.44" stroke="#d82828" stroke-width="1.3" />
<line x1="357.23" y1="732.69" x2="361.63" y2="732.69" stroke="#d82828" stroke-width="1.3" />
<circle cx="359.43" cy="729.07" r="1.85" fill="#d82828"/>
<line x1="465.10" y1="92.10" x2="465.10" y2="191.00" stroke="#333333" stroke-width="1.25" />
<line x1="463.10" y1="190.40" x2="580.00" y2="190.40" stroke="#333333" stroke-width="1.25" />
<line x1="462.60" y1="190.40" x2="465.10" y2="190.40" stroke="#333333" stroke-width="1.0" />
<text transform="translate(462.20 192.90) scale(0.88 1)" x="0" y="0" font-size="8.8" text-anchor="end" fill="#1a1a1a" stroke="#1a1a1a" stroke-width="0.25">0</text>
<line x1="462.60" y1="170.82" x2="465.10" y2="170.82" stroke="#333333" stroke-width="1.0" />
<text transform="translate(462.20 173.32) scale(0.88 1)" x="0" y="0" font-size="8.8" text-anchor="end" fill="#1a1a1a" stroke="#1a1a1a" stroke-width="0.25">5</text>
<line x1="462.60" y1="151.24" x2="465.10" y2="151.24" stroke="#333333" stroke-width="1.0" />
<text transform="translate(462.20 153.74) scale(0.88 1)" x="0" y="0" font-size="8.8" text-anchor="end" fill="#1a1a1a" stroke="#1a1a1a" stroke-width="0.25">10</text>
<line x1="462.60" y1="131.66" x2="465.10" y2="131.66" stroke="#333333" stroke-width="1.0" />
<text transform="translate(462.20 134.16) scale(0.88 1)" x="0" y="0" font-size="8.8" text-anchor="end" fill="#1a1a1a" stroke="#1a1a1a" stroke-width="0.25">15</text>
<line x1="462.60" y1="112.08" x2="465.10" y2="112.08" stroke="#333333" stroke-width="1.0" />
<text transform="translate(462.20 114.58) scale(0.88 1)" x="0" y="0" font-size="8.8" text-anchor="end" fill="#1a1a1a" stroke="#1a1a1a" stroke-width="0.25">20</text>
<line x1="462.60" y1="92.50" x2="465.10" y2="92.50" stroke="#333333" stroke-width="1.0" />
<text transform="translate(462.20 95.00) scale(0.88 1)" x="0" y="0" font-size="8.8" text-anchor="end" fill="#1a1a1a" stroke="#1a1a1a" stroke-width="0.25">25</text>
<line x1="484.30" y1="190.40" x2="484.30" y2="192.90" stroke="#333333" stroke-width="1.0" />
<text transform="translate(484.30 200.45) scale(0.92 1)" x="0" y="0" font-size="8.8" text-anchor="middle" fill="#1a1a1a" stroke="#1a1a1a" stroke-width="0.25">C</text>
<line x1="522.40" y1="190.40" x2="522.40" y2="192.90" stroke="#333333" stroke-width="1.0" />
<text transform="translate(522.40 200.45) scale(0.92 1)" x="0" y="0" font-size="8.8" text-anchor="middle" fill="#1a1a1a" stroke="#1a1a1a" stroke-width="0.25">T (AT8-)</text>
<line x1="560.40" y1="190.40" x2="560.40" y2="192.90" stroke="#333333" stroke-width="1.0" />
<text transform="translate(560.40 200.45) scale(0.92 1)" x="0" y="0" font-size="8.8" text-anchor="middle" fill="#1a1a1a" stroke="#1a1a1a" stroke-width="0.25">T (AT8+)</text>
<text x="522.30" y="217.40" font-size="10" font-weight="bold" text-anchor="middle" fill="#000" >Group</text>
<text x="522.40" y="89.00" font-size="13.7" font-weight="bold" text-anchor="middle" fill="#000" >Total</text>
<text x="429.00" y="77.90" font-size="19.5" font-weight="bold" text-anchor="start" fill="#000" >B</text>
<text transform="translate(441.90 140.30) rotate(-90) scale(1.0471 1)" x="0" y="0" font-size="9.6" font-weight="bold" text-anchor="middle">Diameter (µm)</text>
<circle cx="479.00" cy="108.50" r="1.75" fill="#0a0aa8"/>
<circle cx="484.00" cy="110.50" r="1.75" fill="#0a0aa8"/>
<circle cx="479.00" cy="121.40" r="1.75" fill="#0a0aa8"/>
<circle cx="484.00" cy="122.50" r="1.75" fill="#0a0aa8"/>
<circle cx="489.10" cy="122.40" r="1.75" fill="#0a0aa8"/>
<circle cx="494.20" cy="120.80" r="1.75" fill="#0a0aa8"/>
<circle cx="476.50" cy="126.90" r="1.75" fill="#0a0aa8"/>
<circle cx="474.00" cy="128.60" r="1.75" fill="#0a0aa8"/>
<circle cx="481.60" cy="127.40" r="1.75" fill="#0a0aa8"/>
<circle cx="486.70" cy="127.20" r="1.75" fill="#0a0aa8"/>
<circle cx="494.20" cy="128.40" r="1.75" fill="#0a0aa8"/>
<circle cx="489.20" cy="129.10" r="1.75" fill="#0a0aa8"/>
<circle cx="479.00" cy="130.00" r="1.75" fill="#0a0aa8"/>
<circle cx="484.10" cy="130.00" r="1.75" fill="#0a0aa8"/>
<circle cx="491.50" cy="130.60" r="1.75" fill="#0a0aa8"/>
<circle cx="474.00" cy="132.80" r="1.75" fill="#0a0aa8"/>
<circle cx="479.00" cy="132.20" r="1.75" fill="#0a0aa8"/>
<circle cx="484.10" cy="132.20" r="1.75" fill="#0a0aa8"/>
<circle cx="494.20" cy="132.80" r="1.75" fill="#0a0aa8"/>
<circle cx="476.50" cy="131.70" r="1.75" fill="#0a0aa8"/>
<circle cx="481.60" cy="129.50" r="1.75" fill="#0a0aa8"/>
<circle cx="486.70" cy="132.00" r="1.75" fill="#0a0aa8"/>
<circle cx="489.20" cy="134.50" r="1.75" fill="#0a0aa8"/>
<circle cx="484.10" cy="134.80" r="1.75" fill="#0a0aa8"/>
<circle cx="476.50" cy="136.80" r="1.75" fill="#0a0aa8"/>
<circle cx="481.60" cy="137.00" r="1.75" fill="#0a0aa8"/>
<circle cx="486.70" cy="136.80" r="1.75" fill="#0a0aa8"/>
<circle cx="474.00" cy="139.30" r="1.75" fill="#0a0aa8"/>
<circle cx="479.00" cy="139.60" r="1.75" fill="#0a0aa8"/>
<circle cx="489.20" cy="139.30" r="1.75" fill="#0a0aa8"/>
<circle cx="494.20" cy="138.00" r="1.75" fill="#0a0aa8"/>
<circle cx="484.10" cy="141.40" r="1.75" fill="#0a0aa8"/>
<circle cx="479.00" cy="143.00" r="1.75" fill="#0a0aa8"/>
<circle cx="494.20" cy="142.40" r="1.75" fill="#0a0aa8"/>
<circle cx="489.20" cy="144.40" r="1.75" fill="#0a0aa8"/>
<circle cx="484.10" cy="147.20" r="1.75" fill="#0a0aa8"/>
<circle cx="517.30" cy="115.30" r="1.75" fill="#13931a"/>
<circle cx="522.30" cy="115.30" r="1.75" fill="#13931a"/>
<circle cx="512.40" cy="119.60" r="1.75" fill="#13931a"/>
<circle cx="517.30" cy="121.10" r="1.75" fill="#13931a"/>
<circle cx="524.80" cy="119.10" r="1.75" fill="#13931a"/>
<circle cx="527.30" cy="121.20" r="1.75" fill="#13931a"/>
<circle cx="532.30" cy="119.90" r="1.75" fill="#13931a"/>
<circle cx="522.30" cy="122.50" r="1.75" fill="#13931a"/>
<circle cx="519.90" cy="124.30" r="1.75" fill="#13931a"/>
<circle cx="512.40" cy="126.30" r="1.75" fill="#13931a"/>
<circle cx="517.30" cy="127.30" r="1.75" fill="#13931a"/>
<circle cx="522.30" cy="128.30" r="1.75" fill="#13931a"/>
<circle cx="527.30" cy="126.30" r="1.75" fill="#13931a"/>
<circle cx="532.30" cy="126.20" r="1.75" fill="#13931a"/>
<circle cx="512.40" cy="131.50" r="1.75" fill="#13931a"/>
<circle cx="514.90" cy="130.50" r="1.75" fill="#13931a"/>
<circle cx="517.30" cy="131.80" r="1.75" fill="#13931a"/>
<circle cx="519.90" cy="130.50" r="1.75" fill="#13931a"/>
<circle cx="522.30" cy="131.80" r="1.75" fill="#13931a"/>
<circle cx="524.80" cy="130.50" r="1.75" fill="#13931a"/>
<circle cx="527.30" cy="131.50" r="1.75" fill="#13931a"/>
<circle cx="529.80" cy="130.80" r="1.75" fill="#13931a"/>
<circle cx="532.30" cy="132.80" r="1.75" fill="#13931a"/>
<circle cx="514.90" cy="134.40" r="1.75" fill="#13931a"/>
<circle cx="519.90" cy="134.00" r="1.75" fill="#13931a"/>
<circle cx="524.80" cy="134.40" r="1.75" fill="#13931a"/>
<circle cx="527.30" cy="134.00" r="1.75" fill="#13931a"/>
<circle cx="512.40" cy="136.60" r="1.75" fill="#13931a"/>
<circle cx="519.90" cy="135.60" r="1.75" fill="#13931a"/>
<circle cx="532.30" cy="136.30" r="1.75" fill="#13931a"/>
<circle cx="517.30" cy="139.50" r="1.75" fill="#13931a"/>
<circle cx="522.30" cy="140.10" r="1.75" fill="#13931a"/>
<circle cx="527.30" cy="139.20" r="1.75" fill="#13931a"/>
<circle cx="517.30" cy="142.40" r="1.75" fill="#13931a"/>
<circle cx="527.30" cy="143.80" r="1.75" fill="#13931a"/>
<circle cx="522.30" cy="146.80" r="1.75" fill="#13931a"/>
<circle cx="560.30" cy="107.70" r="1.75" fill="#c8102a"/>
<circle cx="550.40" cy="118.60" r="1.75" fill="#c8102a"/>
<circle cx="560.30" cy="116.60" r="1.75" fill="#c8102a"/>
<circle cx="562.80" cy="118.30" r="1.75" fill="#c8102a"/>
<circle cx="555.30" cy="123.10" r="1.75" fill="#c8102a"/>
<circle cx="555.30" cy="125.40" r="1.75" fill="#c8102a"/>
<circle cx="560.30" cy="123.40" r="1.75" fill="#c8102a"/>
<circle cx="565.30" cy="123.40" r="1.75" fill="#c8102a"/>
<circle cx="570.30" cy="122.60" r="1.75" fill="#c8102a"/>
<circle cx="550.40" cy="129.20" r="1.75" fill="#c8102a"/>
<circle cx="555.30" cy="129.50" r="1.75" fill="#c8102a"/>
<circle cx="560.30" cy="128.60" r="1.75" fill="#c8102a"/>
<circle cx="565.30" cy="130.50" r="1.75" fill="#c8102a"/>
<circle cx="570.30" cy="129.50" r="1.75" fill="#c8102a"/>
<circle cx="555.30" cy="132.10" r="1.75" fill="#c8102a"/>
<circle cx="560.30" cy="132.80" r="1.75" fill="#c8102a"/>
<circle cx="565.30" cy="132.10" r="1.75" fill="#c8102a"/>
<circle cx="557.90" cy="135.60" r="1.75" fill="#c8102a"/>
<circle cx="562.80" cy="135.00" r="1.75" fill="#c8102a"/>
<circle cx="550.40" cy="138.50" r="1.75" fill="#c8102a"/>
<circle cx="555.30" cy="139.50" r="1.75" fill="#c8102a"/>
<circle cx="560.30" cy="140.10" r="1.75" fill="#c8102a"/>
<circle cx="565.30" cy="139.50" r="1.75" fill="#c8102a"/>
<circle cx="570.30" cy="138.40" r="1.75" fill="#c8102a"/>
<circle cx="555.30" cy="145.50" r="1.75" fill="#c8102a"/>
<circle cx="560.30" cy="147.50" r="1.75" fill="#c8102a"/>
<circle cx="565.30" cy="145.70" r="1.75" fill="#c8102a"/>
<line x1="471.80" y1="131.60" x2="496.80" y2="131.60" stroke="#0a0aa8" stroke-width="1.2" />
<line x1="484.30" y1="130.10" x2="484.30" y2="133.10" stroke="#0a0aa8" stroke-width="1.2" />
<line x1="477.80" y1="130.10" x2="490.80" y2="130.10" stroke="#0a0aa8" stroke-width="1.2" />
<line x1="477.80" y1="133.10" x2="490.80" y2="133.10" stroke="#0a0aa8" stroke-width="1.2" />
<line x1="509.90" y1="130.50" x2="534.90" y2="130.50" stroke="#13931a" stroke-width="1.2" />
<line x1="522.40" y1="129.00" x2="522.40" y2="132.00" stroke="#13931a" stroke-width="1.2" />
<line x1="515.90" y1="129.00" x2="528.90" y2="129.00" stroke="#13931a" stroke-width="1.2" />
<line x1="515.90" y1="132.00" x2="528.90" y2="132.00" stroke="#13931a" stroke-width="1.2" />
<line x1="547.90" y1="130.00" x2="572.90" y2="130.00" stroke="#c8102a" stroke-width="1.2" />
<line x1="560.40" y1="128.10" x2="560.40" y2="131.90" stroke="#c8102a" stroke-width="1.2" />
<line x1="553.90" y1="128.10" x2="566.90" y2="128.10" stroke="#c8102a" stroke-width="1.2" />
<line x1="553.90" y1="131.90" x2="566.90" y2="131.90" stroke="#c8102a" stroke-width="1.2" />
<line x1="465.10" y1="272.20" x2="465.10" y2="371.10" stroke="#333333" stroke-width="1.25" />
<line x1="463.10" y1="370.50" x2="580.00" y2="370.50" stroke="#333333" stroke-width="1.25" />
<line x1="462.60" y1="350.92" x2="465.10" y2="350.92" stroke="#333333" stroke-width="1.0" />
<text transform="translate(462.20 353.42) scale(0.88 1)" x="0" y="0" font-size="8.8" text-anchor="end" fill="#1a1a1a" stroke="#1a1a1a" stroke-width="0.25">0.5</text>
<line x1="462.60" y1="331.34" x2="465.10" y2="331.34" stroke="#333333" stroke-width="1.0" />
<text transform="translate(462.20 333.84) scale(0.88 1)" x="0" y="0" font-size="8.8" text-anchor="end" fill="#1a1a1a" stroke="#1a1a1a" stroke-width="0.25">1.0</text>
<line x1="462.60" y1="311.76" x2="465.10" y2="311.76" stroke="#333333" stroke-width="1.0" />
<text transform="translate(462.20 314.26) scale(0.88 1)" x="0" y="0" font-size="8.8" text-anchor="end" fill="#1a1a1a" stroke="#1a1a1a" stroke-width="0.25">1.5</text>
<line x1="462.60" y1="292.18" x2="465.10" y2="292.18" stroke="#333333" stroke-width="1.0" />
<text transform="translate(462.20 294.68) scale(0.88 1)" x="0" y="0" font-size="8.8" text-anchor="end" fill="#1a1a1a" stroke="#1a1a1a" stroke-width="0.25">2.0</text>
<line x1="462.60" y1="272.60" x2="465.10" y2="272.60" stroke="#333333" stroke-width="1.0" />
<text transform="translate(462.20 275.10) scale(0.88 1)" x="0" y="0" font-size="8.8" text-anchor="end" fill="#1a1a1a" stroke="#1a1a1a" stroke-width="0.25">2.5</text>
<line x1="484.30" y1="370.50" x2="484.30" y2="373.00" stroke="#333333" stroke-width="1.0" />
<text transform="translate(484.30 380.55) scale(0.92 1)" x="0" y="0" font-size="8.8" text-anchor="middle" fill="#1a1a1a" stroke="#1a1a1a" stroke-width="0.25">C</text>
<line x1="522.40" y1="370.50" x2="522.40" y2="373.00" stroke="#333333" stroke-width="1.0" />
<text transform="translate(522.40 380.55) scale(0.92 1)" x="0" y="0" font-size="8.8" text-anchor="middle" fill="#1a1a1a" stroke="#1a1a1a" stroke-width="0.25">T (AT8-)</text>
<line x1="560.40" y1="370.50" x2="560.40" y2="373.00" stroke="#333333" stroke-width="1.0" />
<text transform="translate(560.40 380.55) scale(0.92 1)" x="0" y="0" font-size="8.8" text-anchor="middle" fill="#1a1a1a" stroke="#1a1a1a" stroke-width="0.25">T (AT8+)</text>
<text x="522.30" y="398.00" font-size="10" font-weight="bold" text-anchor="middle" fill="#000" >Group</text>
<text x="522.40" y="270.40" font-size="13.7" font-weight="bold" text-anchor="middle" fill="#000" >Total</text>
<text x="429.00" y="263.20" font-size="19.5" font-weight="bold" text-anchor="start" fill="#000" >D</text>
<text transform="translate(442.10 320.90) rotate(-90) scale(1.0651 1)" x="0" y="0" font-size="9.6" font-weight="bold" text-anchor="middle">Length (x10<tspan font-size="7.5" dy="-4.5">3</tspan><tspan dy="4.5"> µm)</tspan></text>
<circle cx="489.20" cy="284.10" r="1.75" fill="#0a0aa8"/>
<circle cx="484.00" cy="286.40" r="1.75" fill="#0a0aa8"/>
<circle cx="479.00" cy="288.20" r="1.75" fill="#0a0aa8"/>
<circle cx="484.00" cy="291.60" r="1.75" fill="#0a0aa8"/>
<circle cx="479.00" cy="301.40" r="1.75" fill="#0a0aa8"/>
<circle cx="484.00" cy="303.70" r="1.75" fill="#0a0aa8"/>
<circle cx="489.20" cy="302.30" r="1.75" fill="#0a0aa8"/>
<circle cx="479.00" cy="312.30" r="1.75" fill="#0a0aa8"/>
<circle cx="479.00" cy="315.30" r="1.75" fill="#0a0aa8"/>
<circle cx="484.00" cy="313.10" r="1.75" fill="#0a0aa8"/>
<circle cx="494.20" cy="314.60" r="1.75" fill="#0a0aa8"/>
<circle cx="474.00" cy="320.20" r="1.75" fill="#0a0aa8"/>
<circle cx="484.00" cy="318.30" r="1.75" fill="#0a0aa8"/>
<circle cx="489.20" cy="318.30" r="1.75" fill="#0a0aa8"/>
<circle cx="489.20" cy="321.40" r="1.75" fill="#0a0aa8"/>
<circle cx="479.00" cy="323.10" r="1.75" fill="#0a0aa8"/>
<circle cx="484.00" cy="323.40" r="1.75" fill="#0a0aa8"/>
<circle cx="491.80" cy="323.90" r="1.75" fill="#0a0aa8"/>
<circle cx="481.60" cy="325.90" r="1.75" fill="#0a0aa8"/>
<circle cx="486.70" cy="326.40" r="1.75" fill="#0a0aa8"/>
<circle cx="474.00" cy="327.30" r="1.75" fill="#0a0aa8"/>
<circle cx="479.00" cy="328.20" r="1.75" fill="#0a0aa8"/>
<circle cx="484.00" cy="329.00" r="1.75" fill="#0a0aa8"/>
<circle cx="489.20" cy="328.70" r="1.75" fill="#0a0aa8"/>
<circle cx="494.20" cy="327.90" r="1.75" fill="#0a0aa8"/>
<circle cx="479.00" cy="333.30" r="1.75" fill="#0a0aa8"/>
<circle cx="484.00" cy="334.10" r="1.75" fill="#0a0aa8"/>
<circle cx="474.00" cy="337.80" r="1.75" fill="#0a0aa8"/>
<circle cx="481.60" cy="337.20" r="1.75" fill="#0a0aa8"/>
<circle cx="486.70" cy="337.50" r="1.75" fill="#0a0aa8"/>
<circle cx="479.00" cy="340.60" r="1.75" fill="#0a0aa8"/>
<circle cx="484.00" cy="341.40" r="1.75" fill="#0a0aa8"/>
<circle cx="489.20" cy="341.00" r="1.75" fill="#0a0aa8"/>
<circle cx="494.20" cy="340.30" r="1.75" fill="#0a0aa8"/>
<circle cx="479.00" cy="344.60" r="1.75" fill="#0a0aa8"/>
<circle cx="484.00" cy="347.70" r="1.75" fill="#0a0aa8"/>
<circle cx="484.00" cy="357.00" r="1.75" fill="#0a0aa8"/>
<circle cx="522.40" cy="291.30" r="1.75" fill="#13931a"/>
<circle cx="522.40" cy="297.70" r="1.75" fill="#13931a"/>
<circle cx="522.40" cy="311.10" r="1.75" fill="#13931a"/>
<circle cx="519.60" cy="313.20" r="1.75" fill="#13931a"/>
<circle cx="524.70" cy="314.10" r="1.75" fill="#13931a"/>
<circle cx="512.40" cy="314.70" r="1.75" fill="#13931a"/>
<circle cx="517.30" cy="317.20" r="1.75" fill="#13931a"/>
<circle cx="522.40" cy="318.30" r="1.75" fill="#13931a"/>
<circle cx="527.20" cy="318.20" r="1.75" fill="#13931a"/>
<circle cx="532.30" cy="316.40" r="1.75" fill="#13931a"/>
<circle cx="512.40" cy="321.40" r="1.75" fill="#13931a"/>
<circle cx="517.30" cy="323.40" r="1.75" fill="#13931a"/>
<circle cx="527.20" cy="322.60" r="1.75" fill="#13931a"/>
<circle cx="532.30" cy="320.90" r="1.75" fill="#13931a"/>
<circle cx="522.40" cy="324.50" r="1.75" fill="#13931a"/>
<circle cx="512.40" cy="328.80" r="1.75" fill="#13931a"/>
<circle cx="512.40" cy="332.20" r="1.75" fill="#13931a"/>
<circle cx="517.30" cy="329.90" r="1.75" fill="#13931a"/>
<circle cx="519.90" cy="327.10" r="1.75" fill="#13931a"/>
<circle cx="522.40" cy="328.80" r="1.75" fill="#13931a"/>
<circle cx="524.70" cy="327.10" r="1.75" fill="#13931a"/>
<circle cx="527.20" cy="329.90" r="1.75" fill="#13931a"/>
<circle cx="519.90" cy="331.30" r="1.75" fill="#13931a"/>
<circle cx="524.70" cy="331.30" r="1.75" fill="#13931a"/>
<circle cx="532.30" cy="329.30" r="1.75" fill="#13931a"/>
<circle cx="532.30" cy="332.20" r="1.75" fill="#13931a"/>
<circle cx="527.20" cy="333.60" r="1.75" fill="#13931a"/>
<circle cx="517.30" cy="335.00" r="1.75" fill="#13931a"/>
<circle cx="522.40" cy="336.10" r="1.75" fill="#13931a"/>
<circle cx="522.40" cy="341.80" r="1.75" fill="#13931a"/>
<circle cx="517.30" cy="344.30" r="1.75" fill="#13931a"/>
<circle cx="527.20" cy="344.30" r="1.75" fill="#13931a"/>
<circle cx="522.40" cy="346.90" r="1.75" fill="#13931a"/>
<circle cx="527.20" cy="352.50" r="1.75" fill="#13931a"/>
<circle cx="522.40" cy="354.50" r="1.75" fill="#13931a"/>
<circle cx="560.40" cy="308.80" r="1.75" fill="#c8102a"/>
<circle cx="565.20" cy="310.50" r="1.75" fill="#c8102a"/>
<circle cx="555.30" cy="312.60" r="1.75" fill="#c8102a"/>
<circle cx="560.40" cy="314.30" r="1.75" fill="#c8102a"/>
<circle cx="555.30" cy="319.50" r="1.75" fill="#c8102a"/>
<circle cx="565.20" cy="320.40" r="1.75" fill="#c8102a"/>
<circle cx="560.40" cy="323.50" r="1.75" fill="#c8102a"/>
<circle cx="550.40" cy="326.20" r="1.75" fill="#c8102a"/>
<circle cx="555.30" cy="328.00" r="1.75" fill="#c8102a"/>
<circle cx="560.40" cy="328.30" r="1.75" fill="#c8102a"/>
<circle cx="565.20" cy="326.60" r="1.75" fill="#c8102a"/>
<circle cx="550.40" cy="338.20" r="1.75" fill="#c8102a"/>
<circle cx="555.30" cy="339.00" r="1.75" fill="#c8102a"/>
<circle cx="557.90" cy="337.60" r="1.75" fill="#c8102a"/>
<circle cx="562.70" cy="337.30" r="1.75" fill="#c8102a"/>
<circle cx="565.20" cy="339.90" r="1.75" fill="#c8102a"/>
<circle cx="567.80" cy="336.50" r="1.75" fill="#c8102a"/>
<circle cx="570.30" cy="338.40" r="1.75" fill="#c8102a"/>
<circle cx="560.40" cy="341.30" r="1.75" fill="#c8102a"/>
<circle cx="550.40" cy="347.30" r="1.75" fill="#c8102a"/>
<circle cx="555.30" cy="348.60" r="1.75" fill="#c8102a"/>
<circle cx="560.40" cy="349.00" r="1.75" fill="#c8102a"/>
<circle cx="565.20" cy="347.30" r="1.75" fill="#c8102a"/>
<circle cx="570.30" cy="346.70" r="1.75" fill="#c8102a"/>
<circle cx="565.20" cy="351.50" r="1.75" fill="#c8102a"/>
<circle cx="560.40" cy="354.60" r="1.75" fill="#c8102a"/>
<line x1="471.80" y1="323.00" x2="496.80" y2="323.00" stroke="#0a0aa8" stroke-width="1.2" />
<line x1="484.30" y1="320.00" x2="484.30" y2="326.00" stroke="#0a0aa8" stroke-width="1.2" />
<line x1="477.80" y1="320.00" x2="490.80" y2="320.00" stroke="#0a0aa8" stroke-width="1.2" />
<line x1="477.80" y1="326.00" x2="490.80" y2="326.00" stroke="#0a0aa8" stroke-width="1.2" />
<line x1="509.90" y1="327.20" x2="534.90" y2="327.20" stroke="#13931a" stroke-width="1.2" />
<line x1="522.40" y1="324.90" x2="522.40" y2="329.50" stroke="#13931a" stroke-width="1.2" />
<line x1="515.90" y1="324.90" x2="528.90" y2="324.90" stroke="#13931a" stroke-width="1.2" />
<line x1="515.90" y1="329.50" x2="528.90" y2="329.50" stroke="#13931a" stroke-width="1.2" />
<line x1="547.90" y1="333.40" x2="572.90" y2="333.40" stroke="#c8102a" stroke-width="1.2" />
<line x1="560.40" y1="330.80" x2="560.40" y2="336.00" stroke="#c8102a" stroke-width="1.2" />
<line x1="553.90" y1="330.80" x2="566.90" y2="330.80" stroke="#c8102a" stroke-width="1.2" />
<line x1="553.90" y1="336.00" x2="566.90" y2="336.00" stroke="#c8102a" stroke-width="1.2" />
<line x1="465.10" y1="460.20" x2="465.10" y2="558.40" stroke="#333333" stroke-width="1.25" />
<line x1="463.10" y1="557.80" x2="580.00" y2="557.80" stroke="#333333" stroke-width="1.25" />
<line x1="462.60" y1="525.40" x2="465.10" y2="525.40" stroke="#333333" stroke-width="1.0" />
<text transform="translate(462.20 527.90) scale(0.88 1)" x="0" y="0" font-size="8.8" text-anchor="end" fill="#1a1a1a" stroke="#1a1a1a" stroke-width="0.25">2.0</text>
<line x1="462.60" y1="493.00" x2="465.10" y2="493.00" stroke="#333333" stroke-width="1.0" />
<text transform="translate(462.20 495.50) scale(0.88 1)" x="0" y="0" font-size="8.8" text-anchor="end" fill="#1a1a1a" stroke="#1a1a1a" stroke-width="0.25">4.0</text>
<line x1="462.60" y1="460.60" x2="465.10" y2="460.60" stroke="#333333" stroke-width="1.0" />
<text transform="translate(462.20 463.10) scale(0.88 1)" x="0" y="0" font-size="8.8" text-anchor="end" fill="#1a1a1a" stroke="#1a1a1a" stroke-width="0.25">6.0</text>
<line x1="484.30" y1="557.80" x2="484.30" y2="560.30" stroke="#333333" stroke-width="1.0" />
<text transform="translate(484.30 567.85) scale(0.92 1)" x="0" y="0" font-size="8.8" text-anchor="middle" fill="#1a1a1a" stroke="#1a1a1a" stroke-width="0.25">C</text>
<line x1="522.40" y1="557.80" x2="522.40" y2="560.30" stroke="#333333" stroke-width="1.0" />
<text transform="translate(522.40 567.85) scale(0.92 1)" x="0" y="0" font-size="8.8" text-anchor="middle" fill="#1a1a1a" stroke="#1a1a1a" stroke-width="0.25">T (AT8-)</text>
<line x1="560.40" y1="557.80" x2="560.40" y2="560.30" stroke="#333333" stroke-width="1.0" />
<text transform="translate(560.40 567.85) scale(0.92 1)" x="0" y="0" font-size="8.8" text-anchor="middle" fill="#1a1a1a" stroke="#1a1a1a" stroke-width="0.25">T (AT8+)</text>
<text x="522.30" y="580.60" font-size="10" font-weight="bold" text-anchor="middle" fill="#000" >Group</text>
<text x="522.40" y="457.30" font-size="13.7" font-weight="bold" text-anchor="middle" fill="#000" >Total</text>
<text x="429.00" y="448.50" font-size="19.5" font-weight="bold" text-anchor="start" fill="#000" >F</text>
<text transform="translate(442.10 508.90) rotate(-90) scale(1.1030 1)" x="0" y="0" font-size="9.6" font-weight="bold" text-anchor="middle">Area (x10<tspan font-size="7.5" dy="-4.5">3</tspan><tspan dy="4.5"> µm</tspan><tspan font-size="7.5" dy="-4.5">2</tspan><tspan dy="4.5">)</tspan></text>
<circle cx="484.00" cy="469.70" r="1.75" fill="#0a0aa8"/>
<circle cx="479.00" cy="485.50" r="1.75" fill="#0a0aa8"/>
<circle cx="484.00" cy="487.60" r="1.75" fill="#0a0aa8"/>
<circle cx="489.10" cy="486.10" r="1.75" fill="#0a0aa8"/>
<circle cx="489.10" cy="490.60" r="1.75" fill="#0a0aa8"/>
<circle cx="479.00" cy="494.50" r="1.75" fill="#0a0aa8"/>
<circle cx="484.00" cy="494.80" r="1.75" fill="#0a0aa8"/>
<circle cx="489.10" cy="498.20" r="1.75" fill="#0a0aa8"/>
<circle cx="484.00" cy="502.80" r="1.75" fill="#0a0aa8"/>
<circle cx="474.00" cy="510.00" r="1.75" fill="#0a0aa8"/>
<circle cx="494.20" cy="509.50" r="1.75" fill="#0a0aa8"/>
<circle cx="479.00" cy="512.10" r="1.75" fill="#0a0aa8"/>
<circle cx="484.00" cy="512.90" r="1.75" fill="#0a0aa8"/>
<circle cx="489.10" cy="511.20" r="1.75" fill="#0a0aa8"/>
<circle cx="474.00" cy="515.70" r="1.75" fill="#0a0aa8"/>
<circle cx="479.00" cy="517.40" r="1.75" fill="#0a0aa8"/>
<circle cx="484.00" cy="517.70" r="1.75" fill="#0a0aa8"/>
<circle cx="489.10" cy="517.70" r="1.75" fill="#0a0aa8"/>
<circle cx="494.20" cy="516.90" r="1.75" fill="#0a0aa8"/>
<circle cx="481.60" cy="520.00" r="1.75" fill="#0a0aa8"/>
<circle cx="486.70" cy="520.00" r="1.75" fill="#0a0aa8"/>
<circle cx="494.20" cy="520.80" r="1.75" fill="#0a0aa8"/>
<circle cx="474.00" cy="522.50" r="1.75" fill="#0a0aa8"/>
<circle cx="489.10" cy="522.80" r="1.75" fill="#0a0aa8"/>
<circle cx="479.00" cy="524.20" r="1.75" fill="#0a0aa8"/>
<circle cx="481.60" cy="525.60" r="1.75" fill="#0a0aa8"/>
<circle cx="484.00" cy="524.50" r="1.75" fill="#0a0aa8"/>
<circle cx="486.70" cy="526.80" r="1.75" fill="#0a0aa8"/>
<circle cx="474.00" cy="528.20" r="1.75" fill="#0a0aa8"/>
<circle cx="479.00" cy="528.70" r="1.75" fill="#0a0aa8"/>
<circle cx="479.00" cy="530.40" r="1.75" fill="#0a0aa8"/>
<circle cx="484.00" cy="529.90" r="1.75" fill="#0a0aa8"/>
<circle cx="489.10" cy="529.30" r="1.75" fill="#0a0aa8"/>
<circle cx="494.20" cy="528.40" r="1.75" fill="#0a0aa8"/>
<circle cx="484.00" cy="535.20" r="1.75" fill="#0a0aa8"/>
<circle cx="484.00" cy="543.70" r="1.75" fill="#0a0aa8"/>
<circle cx="522.00" cy="484.50" r="1.75" fill="#13931a"/>
<circle cx="522.00" cy="493.30" r="1.75" fill="#13931a"/>
<circle cx="517.00" cy="502.90" r="1.75" fill="#13931a"/>
<circle cx="522.00" cy="504.90" r="1.75" fill="#13931a"/>
<circle cx="527.10" cy="504.00" r="1.75" fill="#13931a"/>
<circle cx="512.00" cy="506.80" r="1.75" fill="#13931a"/>
<circle cx="517.00" cy="510.20" r="1.75" fill="#13931a"/>
<circle cx="522.00" cy="510.20" r="1.75" fill="#13931a"/>
<circle cx="524.70" cy="511.40" r="1.75" fill="#13931a"/>
<circle cx="527.10" cy="509.40" r="1.75" fill="#13931a"/>
<circle cx="512.00" cy="512.20" r="1.75" fill="#13931a"/>
<circle cx="532.20" cy="513.30" r="1.75" fill="#13931a"/>
<circle cx="517.00" cy="515.30" r="1.75" fill="#13931a"/>
<circle cx="522.00" cy="515.30" r="1.75" fill="#13931a"/>
<circle cx="527.10" cy="515.30" r="1.75" fill="#13931a"/>
<circle cx="512.00" cy="519.10" r="1.75" fill="#13931a"/>
<circle cx="512.00" cy="522.70" r="1.75" fill="#13931a"/>
<circle cx="517.00" cy="519.90" r="1.75" fill="#13931a"/>
<circle cx="519.60" cy="517.60" r="1.75" fill="#13931a"/>
<circle cx="522.00" cy="519.90" r="1.75" fill="#13931a"/>
<circle cx="524.70" cy="518.20" r="1.75" fill="#13931a"/>
<circle cx="527.10" cy="520.50" r="1.75" fill="#13931a"/>
<circle cx="517.00" cy="523.60" r="1.75" fill="#13931a"/>
<circle cx="519.60" cy="521.60" r="1.75" fill="#13931a"/>
<circle cx="524.70" cy="521.60" r="1.75" fill="#13931a"/>
<circle cx="529.80" cy="521.30" r="1.75" fill="#13931a"/>
<circle cx="532.20" cy="518.80" r="1.75" fill="#13931a"/>
<circle cx="532.20" cy="523.30" r="1.75" fill="#13931a"/>
<circle cx="527.10" cy="524.10" r="1.75" fill="#13931a"/>
<circle cx="522.00" cy="526.40" r="1.75" fill="#13931a"/>
<circle cx="512.00" cy="529.80" r="1.75" fill="#13931a"/>
<circle cx="517.00" cy="532.60" r="1.75" fill="#13931a"/>
<circle cx="522.00" cy="532.90" r="1.75" fill="#13931a"/>
<circle cx="527.10" cy="530.60" r="1.75" fill="#13931a"/>
<circle cx="527.10" cy="537.40" r="1.75" fill="#13931a"/>
<circle cx="522.00" cy="540.90" r="1.75" fill="#13931a"/>
<circle cx="560.00" cy="488.50" r="1.75" fill="#c8102a"/>
<circle cx="560.00" cy="496.40" r="1.75" fill="#c8102a"/>
<circle cx="560.00" cy="502.60" r="1.75" fill="#c8102a"/>
<circle cx="555.00" cy="511.70" r="1.75" fill="#c8102a"/>
<circle cx="560.00" cy="513.40" r="1.75" fill="#c8102a"/>
<circle cx="565.10" cy="512.50" r="1.75" fill="#c8102a"/>
<circle cx="570.20" cy="510.20" r="1.75" fill="#c8102a"/>
<circle cx="570.20" cy="514.20" r="1.75" fill="#c8102a"/>
<circle cx="550.00" cy="514.50" r="1.75" fill="#c8102a"/>
<circle cx="555.00" cy="517.60" r="1.75" fill="#c8102a"/>
<circle cx="565.10" cy="517.30" r="1.75" fill="#c8102a"/>
<circle cx="560.00" cy="519.30" r="1.75" fill="#c8102a"/>
<circle cx="550.00" cy="521.00" r="1.75" fill="#c8102a"/>
<circle cx="570.20" cy="521.80" r="1.75" fill="#c8102a"/>
<circle cx="555.00" cy="522.40" r="1.75" fill="#c8102a"/>
<circle cx="560.00" cy="525.60" r="1.75" fill="#c8102a"/>
<circle cx="565.10" cy="525.00" r="1.75" fill="#c8102a"/>
<circle cx="565.10" cy="530.10" r="1.75" fill="#c8102a"/>
<circle cx="555.00" cy="533.20" r="1.75" fill="#c8102a"/>
<circle cx="560.00" cy="533.20" r="1.75" fill="#c8102a"/>
<circle cx="562.70" cy="535.00" r="1.75" fill="#c8102a"/>
<circle cx="550.00" cy="535.40" r="1.75" fill="#c8102a"/>
<circle cx="570.20" cy="535.40" r="1.75" fill="#c8102a"/>
<circle cx="555.00" cy="538.40" r="1.75" fill="#c8102a"/>
<circle cx="560.00" cy="539.10" r="1.75" fill="#c8102a"/>
<circle cx="565.10" cy="538.80" r="1.75" fill="#c8102a"/>
<circle cx="560.00" cy="522.70" r="1.75" fill="#c8102a"/>
<line x1="471.80" y1="514.30" x2="496.80" y2="514.30" stroke="#0a0aa8" stroke-width="1.2" />
<line x1="484.30" y1="511.80" x2="484.30" y2="516.80" stroke="#0a0aa8" stroke-width="1.2" />
<line x1="477.80" y1="511.80" x2="490.80" y2="511.80" stroke="#0a0aa8" stroke-width="1.2" />
<line x1="477.80" y1="516.80" x2="490.80" y2="516.80" stroke="#0a0aa8" stroke-width="1.2" />
<line x1="509.90" y1="517.60" x2="534.90" y2="517.60" stroke="#13931a" stroke-width="1.2" />
<line x1="522.40" y1="515.60" x2="522.40" y2="519.60" stroke="#13931a" stroke-width="1.2" />
<line x1="515.90" y1="515.60" x2="528.90" y2="515.60" stroke="#13931a" stroke-width="1.2" />
<line x1="515.90" y1="519.60" x2="528.90" y2="519.60" stroke="#13931a" stroke-width="1.2" />
<line x1="547.90" y1="521.30" x2="572.90" y2="521.30" stroke="#c8102a" stroke-width="1.2" />
<line x1="560.40" y1="519.00" x2="560.40" y2="523.60" stroke="#c8102a" stroke-width="1.2" />
<line x1="553.90" y1="519.00" x2="566.90" y2="519.00" stroke="#c8102a" stroke-width="1.2" />
<line x1="553.90" y1="523.60" x2="566.90" y2="523.60" stroke="#c8102a" stroke-width="1.2" />
<line x1="465.10" y1="648.80" x2="465.10" y2="747.70" stroke="#333333" stroke-width="1.25" />
<line x1="463.10" y1="747.10" x2="580.00" y2="747.10" stroke="#333333" stroke-width="1.25" />
<line x1="462.60" y1="714.47" x2="465.10" y2="714.47" stroke="#333333" stroke-width="1.0" />
<text transform="translate(462.20 716.97) scale(0.88 1)" x="0" y="0" font-size="8.8" text-anchor="end" fill="#1a1a1a" stroke="#1a1a1a" stroke-width="0.25">0.5</text>
<line x1="462.60" y1="681.83" x2="465.10" y2="681.83" stroke="#333333" stroke-width="1.0" />
<text transform="translate(462.20 684.33) scale(0.88 1)" x="0" y="0" font-size="8.8" text-anchor="end" fill="#1a1a1a" stroke="#1a1a1a" stroke-width="0.25">1.0</text>
<line x1="462.60" y1="649.20" x2="465.10" y2="649.20" stroke="#333333" stroke-width="1.0" />
<text transform="translate(462.20 651.70) scale(0.88 1)" x="0" y="0" font-size="8.8" text-anchor="end" fill="#1a1a1a" stroke="#1a1a1a" stroke-width="0.25">1.5</text>
<line x1="484.30" y1="747.10" x2="484.30" y2="749.60" stroke="#333333" stroke-width="1.0" />
<text transform="translate(484.30 757.15) scale(0.92 1)" x="0" y="0" font-size="8.8" text-anchor="middle" fill="#1a1a1a" stroke="#1a1a1a" stroke-width="0.25">C</text>
<line x1="522.40" y1="747.10" x2="522.40" y2="749.60" stroke="#333333" stroke-width="1.0" />
<text transform="translate(522.40 757.15) scale(0.92 1)" x="0" y="0" font-size="8.8" text-anchor="middle" fill="#1a1a1a" stroke="#1a1a1a" stroke-width="0.25">T (AT8-)</text>
<line x1="560.40" y1="747.10" x2="560.40" y2="749.60" stroke="#333333" stroke-width="1.0" />
<text transform="translate(560.40 757.15) scale(0.92 1)" x="0" y="0" font-size="8.8" text-anchor="middle" fill="#1a1a1a" stroke="#1a1a1a" stroke-width="0.25">T (AT8+)</text>
<text x="522.30" y="774.50" font-size="10" font-weight="bold" text-anchor="middle" fill="#000" >Group</text>
<text x="522.40" y="646.10" font-size="13.7" font-weight="bold" text-anchor="middle" fill="#000" >Total</text>
<text x="429.00" y="633.50" font-size="19.5" font-weight="bold" text-anchor="start" fill="#000" >H</text>
<text transform="translate(442.40 698.45) rotate(-90) scale(1.1135 1)" x="0" y="0" font-size="9.6" font-weight="bold" text-anchor="middle">Volume (x10<tspan font-size="7.5" dy="-4.5">3</tspan><tspan dy="4.5"> µm</tspan><tspan font-size="7.5" dy="-4.5">3</tspan><tspan dy="4.5">)</tspan></text>
<circle cx="484.00" cy="660.10" r="1.75" fill="#0a0aa8"/>
<circle cx="479.00" cy="666.20" r="1.75" fill="#0a0aa8"/>
<circle cx="484.00" cy="670.80" r="1.75" fill="#0a0aa8"/>
<circle cx="479.00" cy="693.00" r="1.75" fill="#0a0aa8"/>
<circle cx="489.10" cy="693.50" r="1.75" fill="#0a0aa8"/>
<circle cx="484.00" cy="697.20" r="1.75" fill="#0a0aa8"/>
<circle cx="479.00" cy="701.00" r="1.75" fill="#0a0aa8"/>
<circle cx="489.10" cy="699.90" r="1.75" fill="#0a0aa8"/>
<circle cx="484.00" cy="703.30" r="1.75" fill="#0a0aa8"/>
<circle cx="489.10" cy="707.30" r="1.75" fill="#0a0aa8"/>
<circle cx="484.00" cy="708.40" r="1.75" fill="#0a0aa8"/>
<circle cx="474.00" cy="712.60" r="1.75" fill="#0a0aa8"/>
<circle cx="481.60" cy="711.50" r="1.75" fill="#0a0aa8"/>
<circle cx="486.70" cy="711.50" r="1.75" fill="#0a0aa8"/>
<circle cx="494.20" cy="712.30" r="1.75" fill="#0a0aa8"/>
<circle cx="479.00" cy="713.80" r="1.75" fill="#0a0aa8"/>
<circle cx="484.00" cy="714.00" r="1.75" fill="#0a0aa8"/>
<circle cx="489.10" cy="713.80" r="1.75" fill="#0a0aa8"/>
<circle cx="476.50" cy="715.70" r="1.75" fill="#0a0aa8"/>
<circle cx="481.60" cy="716.90" r="1.75" fill="#0a0aa8"/>
<circle cx="491.50" cy="716.30" r="1.75" fill="#0a0aa8"/>
<circle cx="474.00" cy="719.40" r="1.75" fill="#0a0aa8"/>
<circle cx="479.00" cy="719.70" r="1.75" fill="#0a0aa8"/>
<circle cx="484.00" cy="719.10" r="1.75" fill="#0a0aa8"/>
<circle cx="486.70" cy="718.30" r="1.75" fill="#0a0aa8"/>
<circle cx="489.10" cy="720.00" r="1.75" fill="#0a0aa8"/>
<circle cx="494.20" cy="719.40" r="1.75" fill="#0a0aa8"/>
<circle cx="474.00" cy="721.70" r="1.75" fill="#0a0aa8"/>
<circle cx="476.50" cy="721.40" r="1.75" fill="#0a0aa8"/>
<circle cx="481.60" cy="721.70" r="1.75" fill="#0a0aa8"/>
<circle cx="486.70" cy="721.40" r="1.75" fill="#0a0aa8"/>
<circle cx="489.10" cy="722.50" r="1.75" fill="#0a0aa8"/>
<circle cx="494.20" cy="721.70" r="1.75" fill="#0a0aa8"/>
<circle cx="479.00" cy="725.90" r="1.75" fill="#0a0aa8"/>
<circle cx="484.00" cy="726.20" r="1.75" fill="#0a0aa8"/>
<circle cx="484.00" cy="734.40" r="1.75" fill="#0a0aa8"/>
<circle cx="522.40" cy="681.30" r="1.75" fill="#13931a"/>
<circle cx="527.20" cy="695.50" r="1.75" fill="#13931a"/>
<circle cx="512.40" cy="698.60" r="1.75" fill="#13931a"/>
<circle cx="522.40" cy="697.60" r="1.75" fill="#13931a"/>
<circle cx="527.20" cy="699.60" r="1.75" fill="#13931a"/>
<circle cx="517.30" cy="702.70" r="1.75" fill="#13931a"/>
<circle cx="522.40" cy="702.80" r="1.75" fill="#13931a"/>
<circle cx="517.30" cy="706.00" r="1.75" fill="#13931a"/>
<circle cx="527.20" cy="706.10" r="1.75" fill="#13931a"/>
<circle cx="522.40" cy="708.30" r="1.75" fill="#13931a"/>
<circle cx="514.80" cy="710.00" r="1.75" fill="#13931a"/>
<circle cx="529.80" cy="709.70" r="1.75" fill="#13931a"/>
<circle cx="512.40" cy="713.40" r="1.75" fill="#13931a"/>
<circle cx="517.30" cy="712.30" r="1.75" fill="#13931a"/>
<circle cx="519.90" cy="711.20" r="1.75" fill="#13931a"/>
<circle cx="524.70" cy="710.60" r="1.75" fill="#13931a"/>
<circle cx="527.20" cy="713.70" r="1.75" fill="#13931a"/>
<circle cx="532.30" cy="713.40" r="1.75" fill="#13931a"/>
<circle cx="514.80" cy="715.70" r="1.75" fill="#13931a"/>
<circle cx="522.40" cy="714.50" r="1.75" fill="#13931a"/>
<circle cx="512.40" cy="718.00" r="1.75" fill="#13931a"/>
<circle cx="519.90" cy="717.40" r="1.75" fill="#13931a"/>
<circle cx="529.80" cy="717.10" r="1.75" fill="#13931a"/>
<circle cx="524.70" cy="716.90" r="1.75" fill="#13931a"/>
<circle cx="517.30" cy="719.40" r="1.75" fill="#13931a"/>
<circle cx="522.40" cy="720.30" r="1.75" fill="#13931a"/>
<circle cx="527.20" cy="720.00" r="1.75" fill="#13931a"/>
<circle cx="532.30" cy="719.10" r="1.75" fill="#13931a"/>
<circle cx="532.30" cy="721.70" r="1.75" fill="#13931a"/>
<circle cx="512.40" cy="723.40" r="1.75" fill="#13931a"/>
<circle cx="517.30" cy="724.80" r="1.75" fill="#13931a"/>
<circle cx="522.40" cy="725.50" r="1.75" fill="#13931a"/>
<circle cx="527.20" cy="723.60" r="1.75" fill="#13931a"/>
<circle cx="522.40" cy="732.40" r="1.75" fill="#13931a"/>
<circle cx="517.30" cy="713.20" r="1.75" fill="#13931a"/>
<circle cx="522.40" cy="712.00" r="1.75" fill="#13931a"/>
<circle cx="560.40" cy="668.20" r="1.75" fill="#c8102a"/>
<circle cx="560.40" cy="686.30" r="1.75" fill="#c8102a"/>
<circle cx="555.30" cy="694.70" r="1.75" fill="#c8102a"/>
<circle cx="560.40" cy="695.50" r="1.75" fill="#c8102a"/>
<circle cx="565.20" cy="702.20" r="1.75" fill="#c8102a"/>
<circle cx="557.90" cy="706.80" r="1.75" fill="#c8102a"/>
<circle cx="560.40" cy="705.60" r="1.75" fill="#c8102a"/>
<circle cx="550.40" cy="708.50" r="1.75" fill="#c8102a"/>
<circle cx="555.30" cy="709.60" r="1.75" fill="#c8102a"/>
<circle cx="565.20" cy="709.00" r="1.75" fill="#c8102a"/>
<circle cx="570.30" cy="707.10" r="1.75" fill="#c8102a"/>
<circle cx="560.40" cy="711.60" r="1.75" fill="#c8102a"/>
<circle cx="550.40" cy="716.10" r="1.75" fill="#c8102a"/>
<circle cx="555.30" cy="716.70" r="1.75" fill="#c8102a"/>
<circle cx="560.40" cy="717.50" r="1.75" fill="#c8102a"/>
<circle cx="565.20" cy="717.20" r="1.75" fill="#c8102a"/>
<circle cx="570.30" cy="716.70" r="1.75" fill="#c8102a"/>
<circle cx="565.20" cy="724.30" r="1.75" fill="#c8102a"/>
<circle cx="555.30" cy="725.70" r="1.75" fill="#c8102a"/>
<circle cx="560.40" cy="726.00" r="1.75" fill="#c8102a"/>
<circle cx="562.70" cy="727.70" r="1.75" fill="#c8102a"/>
<circle cx="550.40" cy="728.50" r="1.75" fill="#c8102a"/>
<circle cx="570.30" cy="728.50" r="1.75" fill="#c8102a"/>
<circle cx="555.30" cy="729.40" r="1.75" fill="#c8102a"/>
<circle cx="565.20" cy="730.80" r="1.75" fill="#c8102a"/>
<circle cx="560.40" cy="732.20" r="1.75" fill="#c8102a"/>
<line x1="471.80" y1="710.40" x2="496.80" y2="710.40" stroke="#0a0aa8" stroke-width="1.2" />
<line x1="484.30" y1="707.80" x2="484.30" y2="713.00" stroke="#0a0aa8" stroke-width="1.2" />
<line x1="477.80" y1="707.80" x2="490.80" y2="707.80" stroke="#0a0aa8" stroke-width="1.2" />
<line x1="477.80" y1="713.00" x2="490.80" y2="713.00" stroke="#0a0aa8" stroke-width="1.2" />
<line x1="509.90" y1="712.60" x2="534.90" y2="712.60" stroke="#13931a" stroke-width="1.2" />
<line x1="522.40" y1="710.80" x2="522.40" y2="714.40" stroke="#13931a" stroke-width="1.2" />
<line x1="515.90" y1="710.80" x2="528.90" y2="710.80" stroke="#13931a" stroke-width="1.2" />
<line x1="515.90" y1="714.40" x2="528.90" y2="714.40" stroke="#13931a" stroke-width="1.2" />
<line x1="547.90" y1="713.40" x2="572.90" y2="713.40" stroke="#c8102a" stroke-width="1.2" />
<line x1="560.40" y1="710.30" x2="560.40" y2="716.50" stroke="#c8102a" stroke-width="1.2" />
<line x1="553.90" y1="710.30" x2="566.90" y2="710.30" stroke="#c8102a" stroke-width="1.2" />
<line x1="553.90" y1="716.50" x2="566.90" y2="716.50" stroke="#c8102a" stroke-width="1.2" />
</svg>
</body></html>
